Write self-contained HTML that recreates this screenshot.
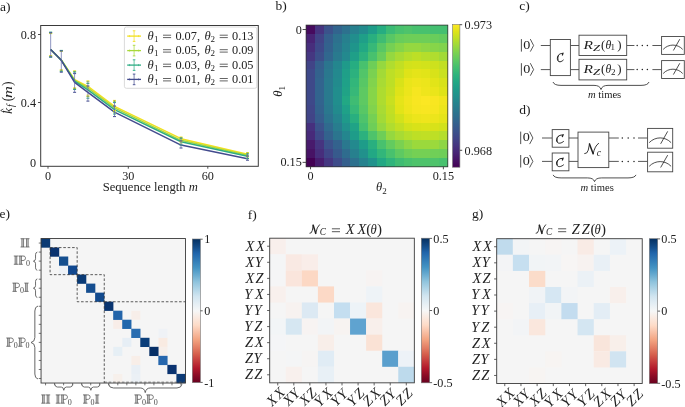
<!DOCTYPE html>
<html><head><meta charset="utf-8"><style>
html,body{margin:0;padding:0;background:#fff;}
body{width:685px;height:407px;overflow:hidden;}
svg{display:block;font-family:"Liberation Serif", serif;will-change:transform;}
</style></head><body>
<svg width="685" height="407" viewBox="0 0 685 407">
<rect width="685" height="407" fill="#fff"/>
<text x="0.00" y="10.60" font-size="13.5" text-anchor="start" fill="#1a1a1a" >a)</text>
<line x1="38.00" y1="34.50" x2="40.70" y2="34.50" stroke="#3a3a3a" stroke-width="0.9" />
<text x="36.00" y="38.70" font-size="12.2" text-anchor="end" fill="#222" >0.8</text>
<line x1="38.00" y1="102.50" x2="40.70" y2="102.50" stroke="#3a3a3a" stroke-width="0.9" />
<text x="36.00" y="106.70" font-size="12.2" text-anchor="end" fill="#222" >0.4</text>
<text x="36.00" y="166.80" font-size="12.2" text-anchor="end" fill="#222" >0</text>
<line x1="48.00" y1="166.30" x2="48.00" y2="168.70" stroke="#3a3a3a" stroke-width="0.9" />
<text x="48.00" y="180.00" font-size="12.2" text-anchor="middle" fill="#222" >0</text>
<line x1="128.30" y1="166.30" x2="128.30" y2="168.70" stroke="#3a3a3a" stroke-width="0.9" />
<text x="128.30" y="180.00" font-size="12.2" text-anchor="middle" fill="#222" >30</text>
<line x1="207.80" y1="166.30" x2="207.80" y2="168.70" stroke="#3a3a3a" stroke-width="0.9" />
<text x="207.80" y="180.00" font-size="12.2" text-anchor="middle" fill="#222" >60</text>
<text x="150.20" y="191.40" font-size="12.6" text-anchor="middle" fill="#222" >Sequence length <tspan font-style="italic">m</tspan></text>
<g transform="translate(11.9,114.0) rotate(-90)">
<text transform="translate(0.00,0.00) scale(1.056,1)" font-size="13.0" font-style="italic" fill="#222">k</text>
<text transform="translate(6.89,1.90) scale(1.000,1)" font-size="9.5" font-style="italic" fill="#222">f</text>
<text transform="translate(12.80,0.30) scale(1.000,1)" font-size="13.6" fill="#222">(</text>
<text transform="translate(16.11,0.00) scale(1.266,1)" font-size="13.0" font-style="italic" fill="#222">m</text>
<text transform="translate(27.96,0.30) scale(1.000,1)" font-size="13.6" fill="#222">)</text>
<path d="M 2.0 -8.6 L 3.5 -11.2 L 5.0 -8.6" stroke="#222" stroke-width="0.7" fill="none" />
</g>
<polyline points="50.66,49.50 61.30,60.00 74.60,79.70 87.90,86.40 114.50,106.30 181.00,138.70 247.50,154.30" fill="none" stroke="#f2e01e" stroke-width="1.5" stroke-linejoin="round"/>
<polyline points="50.66,49.50 61.30,60.10 74.60,80.50 87.90,88.00 114.50,107.80 181.00,140.30 247.50,155.30" fill="none" stroke="#a8d83a" stroke-width="1.5" stroke-linejoin="round"/>
<polyline points="50.66,49.50 61.30,60.20 74.60,81.20 87.90,89.80 114.50,109.60 181.00,141.80 247.50,156.30" fill="none" stroke="#2ead84" stroke-width="1.5" stroke-linejoin="round"/>
<polyline points="50.66,49.50 61.30,60.30 74.60,82.40 87.90,92.30 114.50,112.20 181.00,145.10 247.50,158.70" fill="none" stroke="#434b8e" stroke-width="1.5" stroke-linejoin="round"/>
<line x1="49.16" y1="33.60" x2="52.16" y2="33.60" stroke="#f2e01e" stroke-width="1.0" />
<line x1="49.16" y1="55.60" x2="52.16" y2="55.60" stroke="#f2e01e" stroke-width="1.0" />
<line x1="59.80" y1="51.30" x2="62.80" y2="51.30" stroke="#f2e01e" stroke-width="1.0" />
<line x1="59.80" y1="69.80" x2="62.80" y2="69.80" stroke="#f2e01e" stroke-width="1.0" />
<line x1="73.10" y1="70.90" x2="76.10" y2="70.90" stroke="#f2e01e" stroke-width="1.0" />
<line x1="73.10" y1="87.90" x2="76.10" y2="87.90" stroke="#f2e01e" stroke-width="1.0" />
<line x1="86.40" y1="80.90" x2="89.40" y2="80.90" stroke="#f2e01e" stroke-width="1.0" />
<line x1="86.40" y1="95.20" x2="89.40" y2="95.20" stroke="#f2e01e" stroke-width="1.0" />
<line x1="113.00" y1="100.40" x2="116.00" y2="100.40" stroke="#f2e01e" stroke-width="1.0" />
<line x1="113.00" y1="110.50" x2="116.00" y2="110.50" stroke="#f2e01e" stroke-width="1.0" />
<line x1="179.50" y1="137.00" x2="182.50" y2="137.00" stroke="#f2e01e" stroke-width="1.0" />
<line x1="179.50" y1="141.50" x2="182.50" y2="141.50" stroke="#f2e01e" stroke-width="1.0" />
<line x1="246.00" y1="152.60" x2="249.00" y2="152.60" stroke="#f2e01e" stroke-width="1.0" />
<line x1="246.00" y1="156.00" x2="249.00" y2="156.00" stroke="#f2e01e" stroke-width="1.0" />
<line x1="49.16" y1="33.10" x2="52.16" y2="33.10" stroke="#a8d83a" stroke-width="1.0" />
<line x1="49.16" y1="56.10" x2="52.16" y2="56.10" stroke="#a8d83a" stroke-width="1.0" />
<line x1="59.80" y1="51.00" x2="62.80" y2="51.00" stroke="#a8d83a" stroke-width="1.0" />
<line x1="59.80" y1="70.40" x2="62.80" y2="70.40" stroke="#a8d83a" stroke-width="1.0" />
<line x1="73.10" y1="71.40" x2="76.10" y2="71.40" stroke="#a8d83a" stroke-width="1.0" />
<line x1="73.10" y1="88.50" x2="76.10" y2="88.50" stroke="#a8d83a" stroke-width="1.0" />
<line x1="86.40" y1="81.80" x2="89.40" y2="81.80" stroke="#a8d83a" stroke-width="1.0" />
<line x1="86.40" y1="96.50" x2="89.40" y2="96.50" stroke="#a8d83a" stroke-width="1.0" />
<line x1="113.00" y1="101.30" x2="116.00" y2="101.30" stroke="#a8d83a" stroke-width="1.0" />
<line x1="113.00" y1="112.00" x2="116.00" y2="112.00" stroke="#a8d83a" stroke-width="1.0" />
<line x1="179.50" y1="137.50" x2="182.50" y2="137.50" stroke="#a8d83a" stroke-width="1.0" />
<line x1="179.50" y1="143.00" x2="182.50" y2="143.00" stroke="#a8d83a" stroke-width="1.0" />
<line x1="246.00" y1="153.20" x2="249.00" y2="153.20" stroke="#a8d83a" stroke-width="1.0" />
<line x1="246.00" y1="157.00" x2="249.00" y2="157.00" stroke="#a8d83a" stroke-width="1.0" />
<line x1="49.16" y1="32.10" x2="52.16" y2="32.10" stroke="#2ead84" stroke-width="1.0" />
<line x1="49.16" y1="57.20" x2="52.16" y2="57.20" stroke="#2ead84" stroke-width="1.0" />
<line x1="59.80" y1="50.40" x2="62.80" y2="50.40" stroke="#2ead84" stroke-width="1.0" />
<line x1="59.80" y1="71.40" x2="62.80" y2="71.40" stroke="#2ead84" stroke-width="1.0" />
<line x1="73.10" y1="72.10" x2="76.10" y2="72.10" stroke="#2ead84" stroke-width="1.0" />
<line x1="73.10" y1="89.50" x2="76.10" y2="89.50" stroke="#2ead84" stroke-width="1.0" />
<line x1="86.40" y1="83.40" x2="89.40" y2="83.40" stroke="#2ead84" stroke-width="1.0" />
<line x1="86.40" y1="98.20" x2="89.40" y2="98.20" stroke="#2ead84" stroke-width="1.0" />
<line x1="113.00" y1="102.60" x2="116.00" y2="102.60" stroke="#2ead84" stroke-width="1.0" />
<line x1="113.00" y1="114.00" x2="116.00" y2="114.00" stroke="#2ead84" stroke-width="1.0" />
<line x1="179.50" y1="138.30" x2="182.50" y2="138.30" stroke="#2ead84" stroke-width="1.0" />
<line x1="179.50" y1="145.00" x2="182.50" y2="145.00" stroke="#2ead84" stroke-width="1.0" />
<line x1="246.00" y1="154.00" x2="249.00" y2="154.00" stroke="#2ead84" stroke-width="1.0" />
<line x1="246.00" y1="158.50" x2="249.00" y2="158.50" stroke="#2ead84" stroke-width="1.0" />
<line x1="49.16" y1="32.70" x2="52.16" y2="32.70" stroke="#434b8e" stroke-width="1.0" />
<line x1="49.16" y1="56.90" x2="52.16" y2="56.90" stroke="#434b8e" stroke-width="1.0" />
<line x1="59.80" y1="50.90" x2="62.80" y2="50.90" stroke="#434b8e" stroke-width="1.0" />
<line x1="59.80" y1="72.20" x2="62.80" y2="72.20" stroke="#434b8e" stroke-width="1.0" />
<line x1="73.10" y1="73.60" x2="76.10" y2="73.60" stroke="#434b8e" stroke-width="1.0" />
<line x1="73.10" y1="92.30" x2="76.10" y2="92.30" stroke="#434b8e" stroke-width="1.0" />
<line x1="86.40" y1="86.00" x2="89.40" y2="86.00" stroke="#434b8e" stroke-width="1.0" />
<line x1="86.40" y1="101.10" x2="89.40" y2="101.10" stroke="#434b8e" stroke-width="1.0" />
<line x1="113.00" y1="106.00" x2="116.00" y2="106.00" stroke="#434b8e" stroke-width="1.0" />
<line x1="113.00" y1="116.60" x2="116.00" y2="116.60" stroke="#434b8e" stroke-width="1.0" />
<line x1="179.50" y1="141.00" x2="182.50" y2="141.00" stroke="#434b8e" stroke-width="1.0" />
<line x1="179.50" y1="148.00" x2="182.50" y2="148.00" stroke="#434b8e" stroke-width="1.0" />
<line x1="246.00" y1="156.00" x2="249.00" y2="156.00" stroke="#434b8e" stroke-width="1.0" />
<line x1="246.00" y1="160.20" x2="249.00" y2="160.20" stroke="#434b8e" stroke-width="1.0" />
<line x1="50.66" y1="32.10" x2="50.66" y2="57.20" stroke="#5f68a8" stroke-width="0.7" />
<line x1="61.30" y1="50.40" x2="61.30" y2="72.20" stroke="#5f68a8" stroke-width="0.7" />
<line x1="74.60" y1="70.90" x2="74.60" y2="92.30" stroke="#5f68a8" stroke-width="0.7" />
<line x1="87.90" y1="80.90" x2="87.90" y2="101.10" stroke="#5f68a8" stroke-width="0.7" />
<line x1="114.50" y1="100.40" x2="114.50" y2="116.60" stroke="#5f68a8" stroke-width="0.7" />
<line x1="181.00" y1="137.00" x2="181.00" y2="148.00" stroke="#5f68a8" stroke-width="0.7" />
<line x1="247.50" y1="152.60" x2="247.50" y2="160.20" stroke="#5f68a8" stroke-width="0.7" />
<rect x="40.70" y="25.50" width="217.60" height="140.80" fill="none" stroke="#3a3a3a" stroke-width="1.0" />
<rect x="124.40" y="27.00" width="132.40" height="61.30" fill="#ffffff" stroke="#d0d0d0" stroke-width="0.8" rx="2"/>
<line x1="127.20" y1="36.10" x2="141.00" y2="36.10" stroke="#f2e01e" stroke-width="1.3" />
<line x1="134.10" y1="30.80" x2="134.10" y2="41.40" stroke="#f2e01e" stroke-width="0.7" />
<line x1="132.80" y1="30.80" x2="135.40" y2="30.80" stroke="#f2e01e" stroke-width="0.9" />
<line x1="132.80" y1="41.40" x2="135.40" y2="41.40" stroke="#f2e01e" stroke-width="0.9" />
<line x1="129.60" y1="35.10" x2="129.60" y2="37.10" stroke="#f2e01e" stroke-width="0.7" />
<line x1="138.60" y1="35.10" x2="138.60" y2="37.10" stroke="#f2e01e" stroke-width="0.7" />
<text x="147.5" y="39.80" font-size="12.6" font-style="italic" fill="#222">θ</text>
<text x="153.90" y="41.60" font-size="9.0" text-anchor="start" fill="#222" >1</text>
<line x1="163.00" y1="35.20" x2="171.10" y2="35.20" stroke="#222" stroke-width="0.7" />
<line x1="163.00" y1="37.60" x2="171.10" y2="37.60" stroke="#222" stroke-width="0.7" />
<text x="175.40" y="39.80" font-size="12.3" text-anchor="start" fill="#222" >0.07,</text>
<text x="204.4" y="39.80" font-size="12.6" font-style="italic" fill="#222">θ</text>
<text x="210.60" y="41.60" font-size="9.0" text-anchor="start" fill="#222" >2</text>
<line x1="219.70" y1="35.20" x2="227.80" y2="35.20" stroke="#222" stroke-width="0.7" />
<line x1="219.70" y1="37.60" x2="227.80" y2="37.60" stroke="#222" stroke-width="0.7" />
<text x="232.00" y="39.80" font-size="12.3" text-anchor="start" fill="#222" >0.13</text>
<line x1="127.20" y1="50.60" x2="141.00" y2="50.60" stroke="#a8d83a" stroke-width="1.3" />
<line x1="134.10" y1="45.30" x2="134.10" y2="55.90" stroke="#a8d83a" stroke-width="0.7" />
<line x1="132.80" y1="45.30" x2="135.40" y2="45.30" stroke="#a8d83a" stroke-width="0.9" />
<line x1="132.80" y1="55.90" x2="135.40" y2="55.90" stroke="#a8d83a" stroke-width="0.9" />
<line x1="129.60" y1="49.60" x2="129.60" y2="51.60" stroke="#a8d83a" stroke-width="0.7" />
<line x1="138.60" y1="49.60" x2="138.60" y2="51.60" stroke="#a8d83a" stroke-width="0.7" />
<text x="147.5" y="54.30" font-size="12.6" font-style="italic" fill="#222">θ</text>
<text x="153.90" y="56.10" font-size="9.0" text-anchor="start" fill="#222" >1</text>
<line x1="163.00" y1="49.70" x2="171.10" y2="49.70" stroke="#222" stroke-width="0.7" />
<line x1="163.00" y1="52.10" x2="171.10" y2="52.10" stroke="#222" stroke-width="0.7" />
<text x="175.40" y="54.30" font-size="12.3" text-anchor="start" fill="#222" >0.05,</text>
<text x="204.4" y="54.30" font-size="12.6" font-style="italic" fill="#222">θ</text>
<text x="210.60" y="56.10" font-size="9.0" text-anchor="start" fill="#222" >2</text>
<line x1="219.70" y1="49.70" x2="227.80" y2="49.70" stroke="#222" stroke-width="0.7" />
<line x1="219.70" y1="52.10" x2="227.80" y2="52.10" stroke="#222" stroke-width="0.7" />
<text x="232.00" y="54.30" font-size="12.3" text-anchor="start" fill="#222" >0.09</text>
<line x1="127.20" y1="65.10" x2="141.00" y2="65.10" stroke="#2ead84" stroke-width="1.3" />
<line x1="134.10" y1="59.80" x2="134.10" y2="70.40" stroke="#2ead84" stroke-width="0.7" />
<line x1="132.80" y1="59.80" x2="135.40" y2="59.80" stroke="#2ead84" stroke-width="0.9" />
<line x1="132.80" y1="70.40" x2="135.40" y2="70.40" stroke="#2ead84" stroke-width="0.9" />
<line x1="129.60" y1="64.10" x2="129.60" y2="66.10" stroke="#2ead84" stroke-width="0.7" />
<line x1="138.60" y1="64.10" x2="138.60" y2="66.10" stroke="#2ead84" stroke-width="0.7" />
<text x="147.5" y="68.80" font-size="12.6" font-style="italic" fill="#222">θ</text>
<text x="153.90" y="70.60" font-size="9.0" text-anchor="start" fill="#222" >1</text>
<line x1="163.00" y1="64.20" x2="171.10" y2="64.20" stroke="#222" stroke-width="0.7" />
<line x1="163.00" y1="66.60" x2="171.10" y2="66.60" stroke="#222" stroke-width="0.7" />
<text x="175.40" y="68.80" font-size="12.3" text-anchor="start" fill="#222" >0.03,</text>
<text x="204.4" y="68.80" font-size="12.6" font-style="italic" fill="#222">θ</text>
<text x="210.60" y="70.60" font-size="9.0" text-anchor="start" fill="#222" >2</text>
<line x1="219.70" y1="64.20" x2="227.80" y2="64.20" stroke="#222" stroke-width="0.7" />
<line x1="219.70" y1="66.60" x2="227.80" y2="66.60" stroke="#222" stroke-width="0.7" />
<text x="232.00" y="68.80" font-size="12.3" text-anchor="start" fill="#222" >0.05</text>
<line x1="127.20" y1="79.40" x2="141.00" y2="79.40" stroke="#434b8e" stroke-width="1.3" />
<line x1="134.10" y1="74.10" x2="134.10" y2="84.70" stroke="#434b8e" stroke-width="0.7" />
<line x1="132.80" y1="74.10" x2="135.40" y2="74.10" stroke="#434b8e" stroke-width="0.9" />
<line x1="132.80" y1="84.70" x2="135.40" y2="84.70" stroke="#434b8e" stroke-width="0.9" />
<line x1="129.60" y1="78.40" x2="129.60" y2="80.40" stroke="#434b8e" stroke-width="0.7" />
<line x1="138.60" y1="78.40" x2="138.60" y2="80.40" stroke="#434b8e" stroke-width="0.7" />
<text x="147.5" y="83.10" font-size="12.6" font-style="italic" fill="#222">θ</text>
<text x="153.90" y="84.90" font-size="9.0" text-anchor="start" fill="#222" >1</text>
<line x1="163.00" y1="78.50" x2="171.10" y2="78.50" stroke="#222" stroke-width="0.7" />
<line x1="163.00" y1="80.90" x2="171.10" y2="80.90" stroke="#222" stroke-width="0.7" />
<text x="175.40" y="83.10" font-size="12.3" text-anchor="start" fill="#222" >0.01,</text>
<text x="204.4" y="83.10" font-size="12.6" font-style="italic" fill="#222">θ</text>
<text x="210.60" y="84.90" font-size="9.0" text-anchor="start" fill="#222" >2</text>
<line x1="219.70" y1="78.50" x2="227.80" y2="78.50" stroke="#222" stroke-width="0.7" />
<line x1="219.70" y1="80.90" x2="227.80" y2="80.90" stroke="#222" stroke-width="0.7" />
<text x="232.00" y="83.10" font-size="12.3" text-anchor="start" fill="#222" >0.01</text>
<text x="275.40" y="10.20" font-size="13.5" text-anchor="start" fill="#1a1a1a" >b)</text>
<rect x="306.10" y="25.10" width="9.46" height="9.46" fill="#460b5e" stroke="none" stroke-width="1" shape-rendering="crispEdges"/>
<rect x="314.96" y="25.10" width="9.46" height="9.46" fill="#463480" stroke="none" stroke-width="1" shape-rendering="crispEdges"/>
<rect x="323.81" y="25.10" width="9.46" height="9.46" fill="#3b528b" stroke="none" stroke-width="1" shape-rendering="crispEdges"/>
<rect x="332.67" y="25.10" width="9.46" height="9.46" fill="#32648e" stroke="none" stroke-width="1" shape-rendering="crispEdges"/>
<rect x="341.53" y="25.10" width="9.46" height="9.46" fill="#2d718e" stroke="none" stroke-width="1" shape-rendering="crispEdges"/>
<rect x="350.38" y="25.10" width="9.46" height="9.46" fill="#27808e" stroke="none" stroke-width="1" shape-rendering="crispEdges"/>
<rect x="359.24" y="25.10" width="9.46" height="9.46" fill="#228b8d" stroke="none" stroke-width="1" shape-rendering="crispEdges"/>
<rect x="368.09" y="25.10" width="9.46" height="9.46" fill="#1e9c89" stroke="none" stroke-width="1" shape-rendering="crispEdges"/>
<rect x="376.95" y="25.10" width="9.46" height="9.46" fill="#26ad81" stroke="none" stroke-width="1" shape-rendering="crispEdges"/>
<rect x="385.81" y="25.10" width="9.46" height="9.46" fill="#3bbb75" stroke="none" stroke-width="1" shape-rendering="crispEdges"/>
<rect x="394.66" y="25.10" width="9.46" height="9.46" fill="#48c16e" stroke="none" stroke-width="1" shape-rendering="crispEdges"/>
<rect x="403.52" y="25.10" width="9.46" height="9.46" fill="#4ec36b" stroke="none" stroke-width="1" shape-rendering="crispEdges"/>
<rect x="412.38" y="25.10" width="9.46" height="9.46" fill="#48c16e" stroke="none" stroke-width="1" shape-rendering="crispEdges"/>
<rect x="421.23" y="25.10" width="9.46" height="9.46" fill="#48c16e" stroke="none" stroke-width="1" shape-rendering="crispEdges"/>
<rect x="430.09" y="25.10" width="9.46" height="9.46" fill="#44bf70" stroke="none" stroke-width="1" shape-rendering="crispEdges"/>
<rect x="438.94" y="25.10" width="9.46" height="9.46" fill="#44bf70" stroke="none" stroke-width="1" shape-rendering="crispEdges"/>
<rect x="306.10" y="33.96" width="9.46" height="9.46" fill="#482475" stroke="none" stroke-width="1" shape-rendering="crispEdges"/>
<rect x="314.96" y="33.96" width="9.46" height="9.46" fill="#414487" stroke="none" stroke-width="1" shape-rendering="crispEdges"/>
<rect x="323.81" y="33.96" width="9.46" height="9.46" fill="#355f8d" stroke="none" stroke-width="1" shape-rendering="crispEdges"/>
<rect x="332.67" y="33.96" width="9.46" height="9.46" fill="#2d718e" stroke="none" stroke-width="1" shape-rendering="crispEdges"/>
<rect x="341.53" y="33.96" width="9.46" height="9.46" fill="#27808e" stroke="none" stroke-width="1" shape-rendering="crispEdges"/>
<rect x="350.38" y="33.96" width="9.46" height="9.46" fill="#218e8d" stroke="none" stroke-width="1" shape-rendering="crispEdges"/>
<rect x="359.24" y="33.96" width="9.46" height="9.46" fill="#1f9f88" stroke="none" stroke-width="1" shape-rendering="crispEdges"/>
<rect x="368.09" y="33.96" width="9.46" height="9.46" fill="#29af7f" stroke="none" stroke-width="1" shape-rendering="crispEdges"/>
<rect x="376.95" y="33.96" width="9.46" height="9.46" fill="#3fbc73" stroke="none" stroke-width="1" shape-rendering="crispEdges"/>
<rect x="385.81" y="33.96" width="9.46" height="9.46" fill="#58c765" stroke="none" stroke-width="1" shape-rendering="crispEdges"/>
<rect x="394.66" y="33.96" width="9.46" height="9.46" fill="#69cd5b" stroke="none" stroke-width="1" shape-rendering="crispEdges"/>
<rect x="403.52" y="33.96" width="9.46" height="9.46" fill="#6ece58" stroke="none" stroke-width="1" shape-rendering="crispEdges"/>
<rect x="412.38" y="33.96" width="9.46" height="9.46" fill="#6ece58" stroke="none" stroke-width="1" shape-rendering="crispEdges"/>
<rect x="421.23" y="33.96" width="9.46" height="9.46" fill="#6ece58" stroke="none" stroke-width="1" shape-rendering="crispEdges"/>
<rect x="430.09" y="33.96" width="9.46" height="9.46" fill="#69cd5b" stroke="none" stroke-width="1" shape-rendering="crispEdges"/>
<rect x="438.94" y="33.96" width="9.46" height="9.46" fill="#63cb5f" stroke="none" stroke-width="1" shape-rendering="crispEdges"/>
<rect x="306.10" y="42.81" width="9.46" height="9.46" fill="#472e7c" stroke="none" stroke-width="1" shape-rendering="crispEdges"/>
<rect x="314.96" y="42.81" width="9.46" height="9.46" fill="#3e4989" stroke="none" stroke-width="1" shape-rendering="crispEdges"/>
<rect x="323.81" y="42.81" width="9.46" height="9.46" fill="#33628d" stroke="none" stroke-width="1" shape-rendering="crispEdges"/>
<rect x="332.67" y="42.81" width="9.46" height="9.46" fill="#2b758e" stroke="none" stroke-width="1" shape-rendering="crispEdges"/>
<rect x="341.53" y="42.81" width="9.46" height="9.46" fill="#25848e" stroke="none" stroke-width="1" shape-rendering="crispEdges"/>
<rect x="350.38" y="42.81" width="9.46" height="9.46" fill="#1f958b" stroke="none" stroke-width="1" shape-rendering="crispEdges"/>
<rect x="359.24" y="42.81" width="9.46" height="9.46" fill="#22a884" stroke="none" stroke-width="1" shape-rendering="crispEdges"/>
<rect x="368.09" y="42.81" width="9.46" height="9.46" fill="#37b878" stroke="none" stroke-width="1" shape-rendering="crispEdges"/>
<rect x="376.95" y="42.81" width="9.46" height="9.46" fill="#58c765" stroke="none" stroke-width="1" shape-rendering="crispEdges"/>
<rect x="385.81" y="42.81" width="9.46" height="9.46" fill="#75d054" stroke="none" stroke-width="1" shape-rendering="crispEdges"/>
<rect x="394.66" y="42.81" width="9.46" height="9.46" fill="#86d549" stroke="none" stroke-width="1" shape-rendering="crispEdges"/>
<rect x="403.52" y="42.81" width="9.46" height="9.46" fill="#95d840" stroke="none" stroke-width="1" shape-rendering="crispEdges"/>
<rect x="412.38" y="42.81" width="9.46" height="9.46" fill="#95d840" stroke="none" stroke-width="1" shape-rendering="crispEdges"/>
<rect x="421.23" y="42.81" width="9.46" height="9.46" fill="#8ed645" stroke="none" stroke-width="1" shape-rendering="crispEdges"/>
<rect x="430.09" y="42.81" width="9.46" height="9.46" fill="#86d549" stroke="none" stroke-width="1" shape-rendering="crispEdges"/>
<rect x="438.94" y="42.81" width="9.46" height="9.46" fill="#81d34d" stroke="none" stroke-width="1" shape-rendering="crispEdges"/>
<rect x="306.10" y="51.67" width="9.46" height="9.46" fill="#453781" stroke="none" stroke-width="1" shape-rendering="crispEdges"/>
<rect x="314.96" y="51.67" width="9.46" height="9.46" fill="#3c4f8a" stroke="none" stroke-width="1" shape-rendering="crispEdges"/>
<rect x="323.81" y="51.67" width="9.46" height="9.46" fill="#31678e" stroke="none" stroke-width="1" shape-rendering="crispEdges"/>
<rect x="332.67" y="51.67" width="9.46" height="9.46" fill="#297a8e" stroke="none" stroke-width="1" shape-rendering="crispEdges"/>
<rect x="341.53" y="51.67" width="9.46" height="9.46" fill="#23898e" stroke="none" stroke-width="1" shape-rendering="crispEdges"/>
<rect x="350.38" y="51.67" width="9.46" height="9.46" fill="#1f9f88" stroke="none" stroke-width="1" shape-rendering="crispEdges"/>
<rect x="359.24" y="51.67" width="9.46" height="9.46" fill="#2cb17e" stroke="none" stroke-width="1" shape-rendering="crispEdges"/>
<rect x="368.09" y="51.67" width="9.46" height="9.46" fill="#48c16e" stroke="none" stroke-width="1" shape-rendering="crispEdges"/>
<rect x="376.95" y="51.67" width="9.46" height="9.46" fill="#69cd5b" stroke="none" stroke-width="1" shape-rendering="crispEdges"/>
<rect x="385.81" y="51.67" width="9.46" height="9.46" fill="#95d840" stroke="none" stroke-width="1" shape-rendering="crispEdges"/>
<rect x="394.66" y="51.67" width="9.46" height="9.46" fill="#a8db34" stroke="none" stroke-width="1" shape-rendering="crispEdges"/>
<rect x="403.52" y="51.67" width="9.46" height="9.46" fill="#b5de2b" stroke="none" stroke-width="1" shape-rendering="crispEdges"/>
<rect x="412.38" y="51.67" width="9.46" height="9.46" fill="#bddf26" stroke="none" stroke-width="1" shape-rendering="crispEdges"/>
<rect x="421.23" y="51.67" width="9.46" height="9.46" fill="#b5de2b" stroke="none" stroke-width="1" shape-rendering="crispEdges"/>
<rect x="430.09" y="51.67" width="9.46" height="9.46" fill="#b0dd2f" stroke="none" stroke-width="1" shape-rendering="crispEdges"/>
<rect x="438.94" y="51.67" width="9.46" height="9.46" fill="#a2da37" stroke="none" stroke-width="1" shape-rendering="crispEdges"/>
<rect x="306.10" y="60.53" width="9.46" height="9.46" fill="#414487" stroke="none" stroke-width="1" shape-rendering="crispEdges"/>
<rect x="314.96" y="60.53" width="9.46" height="9.46" fill="#355f8d" stroke="none" stroke-width="1" shape-rendering="crispEdges"/>
<rect x="323.81" y="60.53" width="9.46" height="9.46" fill="#2b758e" stroke="none" stroke-width="1" shape-rendering="crispEdges"/>
<rect x="332.67" y="60.53" width="9.46" height="9.46" fill="#24868e" stroke="none" stroke-width="1" shape-rendering="crispEdges"/>
<rect x="341.53" y="60.53" width="9.46" height="9.46" fill="#1f9a8a" stroke="none" stroke-width="1" shape-rendering="crispEdges"/>
<rect x="350.38" y="60.53" width="9.46" height="9.46" fill="#26ad81" stroke="none" stroke-width="1" shape-rendering="crispEdges"/>
<rect x="359.24" y="60.53" width="9.46" height="9.46" fill="#48c16e" stroke="none" stroke-width="1" shape-rendering="crispEdges"/>
<rect x="368.09" y="60.53" width="9.46" height="9.46" fill="#6ece58" stroke="none" stroke-width="1" shape-rendering="crispEdges"/>
<rect x="376.95" y="60.53" width="9.46" height="9.46" fill="#95d840" stroke="none" stroke-width="1" shape-rendering="crispEdges"/>
<rect x="385.81" y="60.53" width="9.46" height="9.46" fill="#b0dd2f" stroke="none" stroke-width="1" shape-rendering="crispEdges"/>
<rect x="394.66" y="60.53" width="9.46" height="9.46" fill="#c2df23" stroke="none" stroke-width="1" shape-rendering="crispEdges"/>
<rect x="403.52" y="60.53" width="9.46" height="9.46" fill="#d2e21b" stroke="none" stroke-width="1" shape-rendering="crispEdges"/>
<rect x="412.38" y="60.53" width="9.46" height="9.46" fill="#d5e21a" stroke="none" stroke-width="1" shape-rendering="crispEdges"/>
<rect x="421.23" y="60.53" width="9.46" height="9.46" fill="#d2e21b" stroke="none" stroke-width="1" shape-rendering="crispEdges"/>
<rect x="430.09" y="60.53" width="9.46" height="9.46" fill="#cde11d" stroke="none" stroke-width="1" shape-rendering="crispEdges"/>
<rect x="438.94" y="60.53" width="9.46" height="9.46" fill="#c2df23" stroke="none" stroke-width="1" shape-rendering="crispEdges"/>
<rect x="306.10" y="69.38" width="9.46" height="9.46" fill="#3e4989" stroke="none" stroke-width="1" shape-rendering="crispEdges"/>
<rect x="314.96" y="69.38" width="9.46" height="9.46" fill="#33628d" stroke="none" stroke-width="1" shape-rendering="crispEdges"/>
<rect x="323.81" y="69.38" width="9.46" height="9.46" fill="#2a788e" stroke="none" stroke-width="1" shape-rendering="crispEdges"/>
<rect x="332.67" y="69.38" width="9.46" height="9.46" fill="#23898e" stroke="none" stroke-width="1" shape-rendering="crispEdges"/>
<rect x="341.53" y="69.38" width="9.46" height="9.46" fill="#1f9f88" stroke="none" stroke-width="1" shape-rendering="crispEdges"/>
<rect x="350.38" y="69.38" width="9.46" height="9.46" fill="#2cb17e" stroke="none" stroke-width="1" shape-rendering="crispEdges"/>
<rect x="359.24" y="69.38" width="9.46" height="9.46" fill="#52c569" stroke="none" stroke-width="1" shape-rendering="crispEdges"/>
<rect x="368.09" y="69.38" width="9.46" height="9.46" fill="#7ad151" stroke="none" stroke-width="1" shape-rendering="crispEdges"/>
<rect x="376.95" y="69.38" width="9.46" height="9.46" fill="#a2da37" stroke="none" stroke-width="1" shape-rendering="crispEdges"/>
<rect x="385.81" y="69.38" width="9.46" height="9.46" fill="#bddf26" stroke="none" stroke-width="1" shape-rendering="crispEdges"/>
<rect x="394.66" y="69.38" width="9.46" height="9.46" fill="#cae11f" stroke="none" stroke-width="1" shape-rendering="crispEdges"/>
<rect x="403.52" y="69.38" width="9.46" height="9.46" fill="#dfe318" stroke="none" stroke-width="1" shape-rendering="crispEdges"/>
<rect x="412.38" y="69.38" width="9.46" height="9.46" fill="#e5e419" stroke="none" stroke-width="1" shape-rendering="crispEdges"/>
<rect x="421.23" y="69.38" width="9.46" height="9.46" fill="#e2e418" stroke="none" stroke-width="1" shape-rendering="crispEdges"/>
<rect x="430.09" y="69.38" width="9.46" height="9.46" fill="#d8e219" stroke="none" stroke-width="1" shape-rendering="crispEdges"/>
<rect x="438.94" y="69.38" width="9.46" height="9.46" fill="#cae11f" stroke="none" stroke-width="1" shape-rendering="crispEdges"/>
<rect x="306.10" y="78.24" width="9.46" height="9.46" fill="#3e4989" stroke="none" stroke-width="1" shape-rendering="crispEdges"/>
<rect x="314.96" y="78.24" width="9.46" height="9.46" fill="#32648e" stroke="none" stroke-width="1" shape-rendering="crispEdges"/>
<rect x="323.81" y="78.24" width="9.46" height="9.46" fill="#297a8e" stroke="none" stroke-width="1" shape-rendering="crispEdges"/>
<rect x="332.67" y="78.24" width="9.46" height="9.46" fill="#228b8d" stroke="none" stroke-width="1" shape-rendering="crispEdges"/>
<rect x="341.53" y="78.24" width="9.46" height="9.46" fill="#1fa188" stroke="none" stroke-width="1" shape-rendering="crispEdges"/>
<rect x="350.38" y="78.24" width="9.46" height="9.46" fill="#32b67a" stroke="none" stroke-width="1" shape-rendering="crispEdges"/>
<rect x="359.24" y="78.24" width="9.46" height="9.46" fill="#58c765" stroke="none" stroke-width="1" shape-rendering="crispEdges"/>
<rect x="368.09" y="78.24" width="9.46" height="9.46" fill="#81d34d" stroke="none" stroke-width="1" shape-rendering="crispEdges"/>
<rect x="376.95" y="78.24" width="9.46" height="9.46" fill="#a8db34" stroke="none" stroke-width="1" shape-rendering="crispEdges"/>
<rect x="385.81" y="78.24" width="9.46" height="9.46" fill="#bddf26" stroke="none" stroke-width="1" shape-rendering="crispEdges"/>
<rect x="394.66" y="78.24" width="9.46" height="9.46" fill="#d8e219" stroke="none" stroke-width="1" shape-rendering="crispEdges"/>
<rect x="403.52" y="78.24" width="9.46" height="9.46" fill="#eae51a" stroke="none" stroke-width="1" shape-rendering="crispEdges"/>
<rect x="412.38" y="78.24" width="9.46" height="9.46" fill="#efe51c" stroke="none" stroke-width="1" shape-rendering="crispEdges"/>
<rect x="421.23" y="78.24" width="9.46" height="9.46" fill="#ece51b" stroke="none" stroke-width="1" shape-rendering="crispEdges"/>
<rect x="430.09" y="78.24" width="9.46" height="9.46" fill="#e2e418" stroke="none" stroke-width="1" shape-rendering="crispEdges"/>
<rect x="438.94" y="78.24" width="9.46" height="9.46" fill="#d8e219" stroke="none" stroke-width="1" shape-rendering="crispEdges"/>
<rect x="306.10" y="87.09" width="9.46" height="9.46" fill="#3e4989" stroke="none" stroke-width="1" shape-rendering="crispEdges"/>
<rect x="314.96" y="87.09" width="9.46" height="9.46" fill="#32648e" stroke="none" stroke-width="1" shape-rendering="crispEdges"/>
<rect x="323.81" y="87.09" width="9.46" height="9.46" fill="#297a8e" stroke="none" stroke-width="1" shape-rendering="crispEdges"/>
<rect x="332.67" y="87.09" width="9.46" height="9.46" fill="#218e8d" stroke="none" stroke-width="1" shape-rendering="crispEdges"/>
<rect x="341.53" y="87.09" width="9.46" height="9.46" fill="#20a386" stroke="none" stroke-width="1" shape-rendering="crispEdges"/>
<rect x="350.38" y="87.09" width="9.46" height="9.46" fill="#37b878" stroke="none" stroke-width="1" shape-rendering="crispEdges"/>
<rect x="359.24" y="87.09" width="9.46" height="9.46" fill="#5ec962" stroke="none" stroke-width="1" shape-rendering="crispEdges"/>
<rect x="368.09" y="87.09" width="9.46" height="9.46" fill="#86d549" stroke="none" stroke-width="1" shape-rendering="crispEdges"/>
<rect x="376.95" y="87.09" width="9.46" height="9.46" fill="#addc30" stroke="none" stroke-width="1" shape-rendering="crispEdges"/>
<rect x="385.81" y="87.09" width="9.46" height="9.46" fill="#c2df23" stroke="none" stroke-width="1" shape-rendering="crispEdges"/>
<rect x="394.66" y="87.09" width="9.46" height="9.46" fill="#dfe318" stroke="none" stroke-width="1" shape-rendering="crispEdges"/>
<rect x="403.52" y="87.09" width="9.46" height="9.46" fill="#ece51b" stroke="none" stroke-width="1" shape-rendering="crispEdges"/>
<rect x="412.38" y="87.09" width="9.46" height="9.46" fill="#f6e620" stroke="none" stroke-width="1" shape-rendering="crispEdges"/>
<rect x="421.23" y="87.09" width="9.46" height="9.46" fill="#efe51c" stroke="none" stroke-width="1" shape-rendering="crispEdges"/>
<rect x="430.09" y="87.09" width="9.46" height="9.46" fill="#eae51a" stroke="none" stroke-width="1" shape-rendering="crispEdges"/>
<rect x="438.94" y="87.09" width="9.46" height="9.46" fill="#dfe318" stroke="none" stroke-width="1" shape-rendering="crispEdges"/>
<rect x="306.10" y="95.95" width="9.46" height="9.46" fill="#3e4989" stroke="none" stroke-width="1" shape-rendering="crispEdges"/>
<rect x="314.96" y="95.95" width="9.46" height="9.46" fill="#32648e" stroke="none" stroke-width="1" shape-rendering="crispEdges"/>
<rect x="323.81" y="95.95" width="9.46" height="9.46" fill="#297a8e" stroke="none" stroke-width="1" shape-rendering="crispEdges"/>
<rect x="332.67" y="95.95" width="9.46" height="9.46" fill="#218e8d" stroke="none" stroke-width="1" shape-rendering="crispEdges"/>
<rect x="341.53" y="95.95" width="9.46" height="9.46" fill="#22a884" stroke="none" stroke-width="1" shape-rendering="crispEdges"/>
<rect x="350.38" y="95.95" width="9.46" height="9.46" fill="#3fbc73" stroke="none" stroke-width="1" shape-rendering="crispEdges"/>
<rect x="359.24" y="95.95" width="9.46" height="9.46" fill="#5ec962" stroke="none" stroke-width="1" shape-rendering="crispEdges"/>
<rect x="368.09" y="95.95" width="9.46" height="9.46" fill="#86d549" stroke="none" stroke-width="1" shape-rendering="crispEdges"/>
<rect x="376.95" y="95.95" width="9.46" height="9.46" fill="#addc30" stroke="none" stroke-width="1" shape-rendering="crispEdges"/>
<rect x="385.81" y="95.95" width="9.46" height="9.46" fill="#c8e020" stroke="none" stroke-width="1" shape-rendering="crispEdges"/>
<rect x="394.66" y="95.95" width="9.46" height="9.46" fill="#e5e419" stroke="none" stroke-width="1" shape-rendering="crispEdges"/>
<rect x="403.52" y="95.95" width="9.46" height="9.46" fill="#f1e51d" stroke="none" stroke-width="1" shape-rendering="crispEdges"/>
<rect x="412.38" y="95.95" width="9.46" height="9.46" fill="#f8e621" stroke="none" stroke-width="1" shape-rendering="crispEdges"/>
<rect x="421.23" y="95.95" width="9.46" height="9.46" fill="#fbe723" stroke="none" stroke-width="1" shape-rendering="crispEdges"/>
<rect x="430.09" y="95.95" width="9.46" height="9.46" fill="#f8e621" stroke="none" stroke-width="1" shape-rendering="crispEdges"/>
<rect x="438.94" y="95.95" width="9.46" height="9.46" fill="#f1e51d" stroke="none" stroke-width="1" shape-rendering="crispEdges"/>
<rect x="306.10" y="104.81" width="9.46" height="9.46" fill="#404688" stroke="none" stroke-width="1" shape-rendering="crispEdges"/>
<rect x="314.96" y="104.81" width="9.46" height="9.46" fill="#33628d" stroke="none" stroke-width="1" shape-rendering="crispEdges"/>
<rect x="323.81" y="104.81" width="9.46" height="9.46" fill="#2a788e" stroke="none" stroke-width="1" shape-rendering="crispEdges"/>
<rect x="332.67" y="104.81" width="9.46" height="9.46" fill="#228b8d" stroke="none" stroke-width="1" shape-rendering="crispEdges"/>
<rect x="341.53" y="104.81" width="9.46" height="9.46" fill="#1fa188" stroke="none" stroke-width="1" shape-rendering="crispEdges"/>
<rect x="350.38" y="104.81" width="9.46" height="9.46" fill="#37b878" stroke="none" stroke-width="1" shape-rendering="crispEdges"/>
<rect x="359.24" y="104.81" width="9.46" height="9.46" fill="#58c765" stroke="none" stroke-width="1" shape-rendering="crispEdges"/>
<rect x="368.09" y="104.81" width="9.46" height="9.46" fill="#81d34d" stroke="none" stroke-width="1" shape-rendering="crispEdges"/>
<rect x="376.95" y="104.81" width="9.46" height="9.46" fill="#a8db34" stroke="none" stroke-width="1" shape-rendering="crispEdges"/>
<rect x="385.81" y="104.81" width="9.46" height="9.46" fill="#c2df23" stroke="none" stroke-width="1" shape-rendering="crispEdges"/>
<rect x="394.66" y="104.81" width="9.46" height="9.46" fill="#e2e418" stroke="none" stroke-width="1" shape-rendering="crispEdges"/>
<rect x="403.52" y="104.81" width="9.46" height="9.46" fill="#efe51c" stroke="none" stroke-width="1" shape-rendering="crispEdges"/>
<rect x="412.38" y="104.81" width="9.46" height="9.46" fill="#f6e620" stroke="none" stroke-width="1" shape-rendering="crispEdges"/>
<rect x="421.23" y="104.81" width="9.46" height="9.46" fill="#f8e621" stroke="none" stroke-width="1" shape-rendering="crispEdges"/>
<rect x="430.09" y="104.81" width="9.46" height="9.46" fill="#f6e620" stroke="none" stroke-width="1" shape-rendering="crispEdges"/>
<rect x="438.94" y="104.81" width="9.46" height="9.46" fill="#ece51b" stroke="none" stroke-width="1" shape-rendering="crispEdges"/>
<rect x="306.10" y="113.66" width="9.46" height="9.46" fill="#414487" stroke="none" stroke-width="1" shape-rendering="crispEdges"/>
<rect x="314.96" y="113.66" width="9.46" height="9.46" fill="#365d8d" stroke="none" stroke-width="1" shape-rendering="crispEdges"/>
<rect x="323.81" y="113.66" width="9.46" height="9.46" fill="#2c738e" stroke="none" stroke-width="1" shape-rendering="crispEdges"/>
<rect x="332.67" y="113.66" width="9.46" height="9.46" fill="#25848e" stroke="none" stroke-width="1" shape-rendering="crispEdges"/>
<rect x="341.53" y="113.66" width="9.46" height="9.46" fill="#1f9a8a" stroke="none" stroke-width="1" shape-rendering="crispEdges"/>
<rect x="350.38" y="113.66" width="9.46" height="9.46" fill="#29af7f" stroke="none" stroke-width="1" shape-rendering="crispEdges"/>
<rect x="359.24" y="113.66" width="9.46" height="9.46" fill="#4ec36b" stroke="none" stroke-width="1" shape-rendering="crispEdges"/>
<rect x="368.09" y="113.66" width="9.46" height="9.46" fill="#75d054" stroke="none" stroke-width="1" shape-rendering="crispEdges"/>
<rect x="376.95" y="113.66" width="9.46" height="9.46" fill="#a2da37" stroke="none" stroke-width="1" shape-rendering="crispEdges"/>
<rect x="385.81" y="113.66" width="9.46" height="9.46" fill="#bddf26" stroke="none" stroke-width="1" shape-rendering="crispEdges"/>
<rect x="394.66" y="113.66" width="9.46" height="9.46" fill="#d2e21b" stroke="none" stroke-width="1" shape-rendering="crispEdges"/>
<rect x="403.52" y="113.66" width="9.46" height="9.46" fill="#e5e419" stroke="none" stroke-width="1" shape-rendering="crispEdges"/>
<rect x="412.38" y="113.66" width="9.46" height="9.46" fill="#ece51b" stroke="none" stroke-width="1" shape-rendering="crispEdges"/>
<rect x="421.23" y="113.66" width="9.46" height="9.46" fill="#efe51c" stroke="none" stroke-width="1" shape-rendering="crispEdges"/>
<rect x="430.09" y="113.66" width="9.46" height="9.46" fill="#ece51b" stroke="none" stroke-width="1" shape-rendering="crispEdges"/>
<rect x="438.94" y="113.66" width="9.46" height="9.46" fill="#e5e419" stroke="none" stroke-width="1" shape-rendering="crispEdges"/>
<rect x="306.10" y="122.52" width="9.46" height="9.46" fill="#46307e" stroke="none" stroke-width="1" shape-rendering="crispEdges"/>
<rect x="314.96" y="122.52" width="9.46" height="9.46" fill="#3b528b" stroke="none" stroke-width="1" shape-rendering="crispEdges"/>
<rect x="323.81" y="122.52" width="9.46" height="9.46" fill="#306a8e" stroke="none" stroke-width="1" shape-rendering="crispEdges"/>
<rect x="332.67" y="122.52" width="9.46" height="9.46" fill="#287d8e" stroke="none" stroke-width="1" shape-rendering="crispEdges"/>
<rect x="341.53" y="122.52" width="9.46" height="9.46" fill="#21918c" stroke="none" stroke-width="1" shape-rendering="crispEdges"/>
<rect x="350.38" y="122.52" width="9.46" height="9.46" fill="#20a386" stroke="none" stroke-width="1" shape-rendering="crispEdges"/>
<rect x="359.24" y="122.52" width="9.46" height="9.46" fill="#44bf70" stroke="none" stroke-width="1" shape-rendering="crispEdges"/>
<rect x="368.09" y="122.52" width="9.46" height="9.46" fill="#6ece58" stroke="none" stroke-width="1" shape-rendering="crispEdges"/>
<rect x="376.95" y="122.52" width="9.46" height="9.46" fill="#95d840" stroke="none" stroke-width="1" shape-rendering="crispEdges"/>
<rect x="385.81" y="122.52" width="9.46" height="9.46" fill="#b0dd2f" stroke="none" stroke-width="1" shape-rendering="crispEdges"/>
<rect x="394.66" y="122.52" width="9.46" height="9.46" fill="#c2df23" stroke="none" stroke-width="1" shape-rendering="crispEdges"/>
<rect x="403.52" y="122.52" width="9.46" height="9.46" fill="#d2e21b" stroke="none" stroke-width="1" shape-rendering="crispEdges"/>
<rect x="412.38" y="122.52" width="9.46" height="9.46" fill="#d8e219" stroke="none" stroke-width="1" shape-rendering="crispEdges"/>
<rect x="421.23" y="122.52" width="9.46" height="9.46" fill="#dae319" stroke="none" stroke-width="1" shape-rendering="crispEdges"/>
<rect x="430.09" y="122.52" width="9.46" height="9.46" fill="#d8e219" stroke="none" stroke-width="1" shape-rendering="crispEdges"/>
<rect x="438.94" y="122.52" width="9.46" height="9.46" fill="#d2e21b" stroke="none" stroke-width="1" shape-rendering="crispEdges"/>
<rect x="306.10" y="131.38" width="9.46" height="9.46" fill="#472a7a" stroke="none" stroke-width="1" shape-rendering="crispEdges"/>
<rect x="314.96" y="131.38" width="9.46" height="9.46" fill="#3e4989" stroke="none" stroke-width="1" shape-rendering="crispEdges"/>
<rect x="323.81" y="131.38" width="9.46" height="9.46" fill="#33628d" stroke="none" stroke-width="1" shape-rendering="crispEdges"/>
<rect x="332.67" y="131.38" width="9.46" height="9.46" fill="#2b758e" stroke="none" stroke-width="1" shape-rendering="crispEdges"/>
<rect x="341.53" y="131.38" width="9.46" height="9.46" fill="#24868e" stroke="none" stroke-width="1" shape-rendering="crispEdges"/>
<rect x="350.38" y="131.38" width="9.46" height="9.46" fill="#1e9c89" stroke="none" stroke-width="1" shape-rendering="crispEdges"/>
<rect x="359.24" y="131.38" width="9.46" height="9.46" fill="#2cb17e" stroke="none" stroke-width="1" shape-rendering="crispEdges"/>
<rect x="368.09" y="131.38" width="9.46" height="9.46" fill="#4ec36b" stroke="none" stroke-width="1" shape-rendering="crispEdges"/>
<rect x="376.95" y="131.38" width="9.46" height="9.46" fill="#6ece58" stroke="none" stroke-width="1" shape-rendering="crispEdges"/>
<rect x="385.81" y="131.38" width="9.46" height="9.46" fill="#95d840" stroke="none" stroke-width="1" shape-rendering="crispEdges"/>
<rect x="394.66" y="131.38" width="9.46" height="9.46" fill="#a8db34" stroke="none" stroke-width="1" shape-rendering="crispEdges"/>
<rect x="403.52" y="131.38" width="9.46" height="9.46" fill="#b5de2b" stroke="none" stroke-width="1" shape-rendering="crispEdges"/>
<rect x="412.38" y="131.38" width="9.46" height="9.46" fill="#bddf26" stroke="none" stroke-width="1" shape-rendering="crispEdges"/>
<rect x="421.23" y="131.38" width="9.46" height="9.46" fill="#c0df25" stroke="none" stroke-width="1" shape-rendering="crispEdges"/>
<rect x="430.09" y="131.38" width="9.46" height="9.46" fill="#bddf26" stroke="none" stroke-width="1" shape-rendering="crispEdges"/>
<rect x="438.94" y="131.38" width="9.46" height="9.46" fill="#b5de2b" stroke="none" stroke-width="1" shape-rendering="crispEdges"/>
<rect x="306.10" y="140.23" width="9.46" height="9.46" fill="#481a6c" stroke="none" stroke-width="1" shape-rendering="crispEdges"/>
<rect x="314.96" y="140.23" width="9.46" height="9.46" fill="#463480" stroke="none" stroke-width="1" shape-rendering="crispEdges"/>
<rect x="323.81" y="140.23" width="9.46" height="9.46" fill="#3b528b" stroke="none" stroke-width="1" shape-rendering="crispEdges"/>
<rect x="332.67" y="140.23" width="9.46" height="9.46" fill="#33628d" stroke="none" stroke-width="1" shape-rendering="crispEdges"/>
<rect x="341.53" y="140.23" width="9.46" height="9.46" fill="#2a788e" stroke="none" stroke-width="1" shape-rendering="crispEdges"/>
<rect x="350.38" y="140.23" width="9.46" height="9.46" fill="#23898e" stroke="none" stroke-width="1" shape-rendering="crispEdges"/>
<rect x="359.24" y="140.23" width="9.46" height="9.46" fill="#1e9c89" stroke="none" stroke-width="1" shape-rendering="crispEdges"/>
<rect x="368.09" y="140.23" width="9.46" height="9.46" fill="#29af7f" stroke="none" stroke-width="1" shape-rendering="crispEdges"/>
<rect x="376.95" y="140.23" width="9.46" height="9.46" fill="#48c16e" stroke="none" stroke-width="1" shape-rendering="crispEdges"/>
<rect x="385.81" y="140.23" width="9.46" height="9.46" fill="#63cb5f" stroke="none" stroke-width="1" shape-rendering="crispEdges"/>
<rect x="394.66" y="140.23" width="9.46" height="9.46" fill="#7ad151" stroke="none" stroke-width="1" shape-rendering="crispEdges"/>
<rect x="403.52" y="140.23" width="9.46" height="9.46" fill="#8ed645" stroke="none" stroke-width="1" shape-rendering="crispEdges"/>
<rect x="412.38" y="140.23" width="9.46" height="9.46" fill="#9bd93c" stroke="none" stroke-width="1" shape-rendering="crispEdges"/>
<rect x="421.23" y="140.23" width="9.46" height="9.46" fill="#9bd93c" stroke="none" stroke-width="1" shape-rendering="crispEdges"/>
<rect x="430.09" y="140.23" width="9.46" height="9.46" fill="#9bd93c" stroke="none" stroke-width="1" shape-rendering="crispEdges"/>
<rect x="438.94" y="140.23" width="9.46" height="9.46" fill="#8ed645" stroke="none" stroke-width="1" shape-rendering="crispEdges"/>
<rect x="306.10" y="149.09" width="9.46" height="9.46" fill="#471365" stroke="none" stroke-width="1" shape-rendering="crispEdges"/>
<rect x="314.96" y="149.09" width="9.46" height="9.46" fill="#472e7c" stroke="none" stroke-width="1" shape-rendering="crispEdges"/>
<rect x="323.81" y="149.09" width="9.46" height="9.46" fill="#404688" stroke="none" stroke-width="1" shape-rendering="crispEdges"/>
<rect x="332.67" y="149.09" width="9.46" height="9.46" fill="#375a8c" stroke="none" stroke-width="1" shape-rendering="crispEdges"/>
<rect x="341.53" y="149.09" width="9.46" height="9.46" fill="#2f6c8e" stroke="none" stroke-width="1" shape-rendering="crispEdges"/>
<rect x="350.38" y="149.09" width="9.46" height="9.46" fill="#27808e" stroke="none" stroke-width="1" shape-rendering="crispEdges"/>
<rect x="359.24" y="149.09" width="9.46" height="9.46" fill="#21918c" stroke="none" stroke-width="1" shape-rendering="crispEdges"/>
<rect x="368.09" y="149.09" width="9.46" height="9.46" fill="#22a884" stroke="none" stroke-width="1" shape-rendering="crispEdges"/>
<rect x="376.95" y="149.09" width="9.46" height="9.46" fill="#32b67a" stroke="none" stroke-width="1" shape-rendering="crispEdges"/>
<rect x="385.81" y="149.09" width="9.46" height="9.46" fill="#48c16e" stroke="none" stroke-width="1" shape-rendering="crispEdges"/>
<rect x="394.66" y="149.09" width="9.46" height="9.46" fill="#5ec962" stroke="none" stroke-width="1" shape-rendering="crispEdges"/>
<rect x="403.52" y="149.09" width="9.46" height="9.46" fill="#6ece58" stroke="none" stroke-width="1" shape-rendering="crispEdges"/>
<rect x="412.38" y="149.09" width="9.46" height="9.46" fill="#75d054" stroke="none" stroke-width="1" shape-rendering="crispEdges"/>
<rect x="421.23" y="149.09" width="9.46" height="9.46" fill="#75d054" stroke="none" stroke-width="1" shape-rendering="crispEdges"/>
<rect x="430.09" y="149.09" width="9.46" height="9.46" fill="#70cf57" stroke="none" stroke-width="1" shape-rendering="crispEdges"/>
<rect x="438.94" y="149.09" width="9.46" height="9.46" fill="#6ece58" stroke="none" stroke-width="1" shape-rendering="crispEdges"/>
<rect x="306.10" y="157.94" width="9.46" height="9.46" fill="#440154" stroke="none" stroke-width="1" shape-rendering="crispEdges"/>
<rect x="314.96" y="157.94" width="9.46" height="9.46" fill="#481d6f" stroke="none" stroke-width="1" shape-rendering="crispEdges"/>
<rect x="323.81" y="157.94" width="9.46" height="9.46" fill="#453781" stroke="none" stroke-width="1" shape-rendering="crispEdges"/>
<rect x="332.67" y="157.94" width="9.46" height="9.46" fill="#3e4c8a" stroke="none" stroke-width="1" shape-rendering="crispEdges"/>
<rect x="341.53" y="157.94" width="9.46" height="9.46" fill="#355f8d" stroke="none" stroke-width="1" shape-rendering="crispEdges"/>
<rect x="350.38" y="157.94" width="9.46" height="9.46" fill="#2d718e" stroke="none" stroke-width="1" shape-rendering="crispEdges"/>
<rect x="359.24" y="157.94" width="9.46" height="9.46" fill="#26828e" stroke="none" stroke-width="1" shape-rendering="crispEdges"/>
<rect x="368.09" y="157.94" width="9.46" height="9.46" fill="#20928c" stroke="none" stroke-width="1" shape-rendering="crispEdges"/>
<rect x="376.95" y="157.94" width="9.46" height="9.46" fill="#22a884" stroke="none" stroke-width="1" shape-rendering="crispEdges"/>
<rect x="385.81" y="157.94" width="9.46" height="9.46" fill="#2fb47c" stroke="none" stroke-width="1" shape-rendering="crispEdges"/>
<rect x="394.66" y="157.94" width="9.46" height="9.46" fill="#3fbc73" stroke="none" stroke-width="1" shape-rendering="crispEdges"/>
<rect x="403.52" y="157.94" width="9.46" height="9.46" fill="#48c16e" stroke="none" stroke-width="1" shape-rendering="crispEdges"/>
<rect x="412.38" y="157.94" width="9.46" height="9.46" fill="#4ec36b" stroke="none" stroke-width="1" shape-rendering="crispEdges"/>
<rect x="421.23" y="157.94" width="9.46" height="9.46" fill="#4ec36b" stroke="none" stroke-width="1" shape-rendering="crispEdges"/>
<rect x="430.09" y="157.94" width="9.46" height="9.46" fill="#4ec36b" stroke="none" stroke-width="1" shape-rendering="crispEdges"/>
<rect x="438.94" y="157.94" width="9.46" height="9.46" fill="#48c16e" stroke="none" stroke-width="1" shape-rendering="crispEdges"/>
<rect x="306.10" y="25.10" width="141.70" height="141.70" fill="none" stroke="#333" stroke-width="0.8" />
<line x1="302.60" y1="29.53" x2="306.10" y2="29.53" stroke="#3a3a3a" stroke-width="0.9" />
<line x1="302.60" y1="162.37" x2="306.10" y2="162.37" stroke="#3a3a3a" stroke-width="0.9" />
<text x="301.80" y="33.83" font-size="12.2" text-anchor="end" fill="#222" >0</text>
<text x="301.80" y="165.87" font-size="12.2" text-anchor="end" fill="#222" >0.15</text>
<line x1="310.53" y1="166.80" x2="310.53" y2="169.30" stroke="#3a3a3a" stroke-width="0.9" />
<line x1="443.37" y1="166.80" x2="443.37" y2="169.30" stroke="#3a3a3a" stroke-width="0.9" />
<text x="310.53" y="179.80" font-size="12.2" text-anchor="middle" fill="#222" >0</text>
<text x="443.37" y="179.80" font-size="12.2" text-anchor="middle" fill="#222" >0.15</text>
<text x="376" y="191.3" font-size="12.6" fill="#222"><tspan font-style="italic">θ</tspan><tspan font-size="9" dy="2.2">2</tspan></text>
<g transform="translate(282.4,96.7) rotate(-90)"><text x="0" y="0" font-size="12.6" fill="#222"><tspan font-style="italic">θ</tspan><tspan font-size="9" dy="2.2">1</tspan></text></g>
<defs><linearGradient id="gv" x1="0" y1="0" x2="0" y2="1"><stop offset="0.000" stop-color="#fde725"/><stop offset="0.050" stop-color="#dfe318"/><stop offset="0.100" stop-color="#bddf26"/><stop offset="0.150" stop-color="#9bd93c"/><stop offset="0.200" stop-color="#7ad151"/><stop offset="0.250" stop-color="#5ec962"/><stop offset="0.300" stop-color="#44bf70"/><stop offset="0.350" stop-color="#2fb47c"/><stop offset="0.400" stop-color="#22a884"/><stop offset="0.450" stop-color="#1e9c89"/><stop offset="0.500" stop-color="#21918c"/><stop offset="0.550" stop-color="#25848e"/><stop offset="0.600" stop-color="#2a788e"/><stop offset="0.650" stop-color="#2f6c8e"/><stop offset="0.700" stop-color="#355f8d"/><stop offset="0.750" stop-color="#3b528b"/><stop offset="0.800" stop-color="#414487"/><stop offset="0.850" stop-color="#463480"/><stop offset="0.900" stop-color="#482475"/><stop offset="0.950" stop-color="#471365"/><stop offset="1.000" stop-color="#440154"/></linearGradient></defs>
<rect x="452.50" y="24.40" width="7.40" height="142.80" fill="url(#gv)" stroke="#777" stroke-width="0.6" />
<line x1="459.90" y1="24.70" x2="462.20" y2="24.70" stroke="#3a3a3a" stroke-width="0.9" />
<line x1="459.90" y1="150.30" x2="462.20" y2="150.30" stroke="#3a3a3a" stroke-width="0.9" />
<text x="464.60" y="28.90" font-size="12.2" text-anchor="start" fill="#222" >0.973</text>
<text x="464.60" y="154.50" font-size="12.2" text-anchor="start" fill="#222" >0.968</text>
<text x="519.30" y="10.00" font-size="13.5" text-anchor="start" fill="#1a1a1a" >c)</text>
<line x1="521.40" y1="39.10" x2="521.40" y2="51.60" stroke="#222" stroke-width="0.8" />
<text transform="translate(523.36,48.90) scale(1.106,1)" font-size="12.8" fill="#222">0</text>
<path d="M 530.30 39.10 L 533.60 45.50 L 530.30 51.60" stroke="#222" stroke-width="0.75" fill="none" />
<line x1="540.80" y1="45.50" x2="550.30" y2="45.50" stroke="#444" stroke-width="0.9" />
<line x1="570.40" y1="45.50" x2="579.00" y2="45.50" stroke="#444" stroke-width="0.9" />
<line x1="626.70" y1="45.50" x2="634.40" y2="45.50" stroke="#444" stroke-width="0.9" />
<circle cx="637.2" cy="45.5" r="0.75" fill="#222"/>
<circle cx="642.3" cy="45.5" r="0.75" fill="#222"/>
<circle cx="647.4" cy="45.5" r="0.75" fill="#222"/>
<line x1="652.40" y1="45.50" x2="661.60" y2="45.50" stroke="#444" stroke-width="0.9" />
<line x1="521.40" y1="63.20" x2="521.40" y2="75.70" stroke="#222" stroke-width="0.8" />
<text transform="translate(523.36,73.00) scale(1.106,1)" font-size="12.8" fill="#222">0</text>
<path d="M 530.30 63.20 L 533.60 69.60 L 530.30 75.70" stroke="#222" stroke-width="0.75" fill="none" />
<line x1="540.80" y1="69.60" x2="550.30" y2="69.60" stroke="#444" stroke-width="0.9" />
<line x1="570.40" y1="69.60" x2="579.00" y2="69.60" stroke="#444" stroke-width="0.9" />
<line x1="626.70" y1="69.60" x2="634.40" y2="69.60" stroke="#444" stroke-width="0.9" />
<circle cx="637.2" cy="69.6" r="0.75" fill="#222"/>
<circle cx="642.3" cy="69.6" r="0.75" fill="#222"/>
<circle cx="647.4" cy="69.6" r="0.75" fill="#222"/>
<line x1="652.40" y1="69.60" x2="661.60" y2="69.60" stroke="#444" stroke-width="0.9" />
<rect x="550.30" y="39.50" width="20.10" height="36.10" fill="#fff" stroke="#444" stroke-width="0.9" />
<path d="M 562.60 53.50 C 560.90 52.80 557.50 54.80 557.35 58.20 C 557.25 60.60 558.50 61.90 560.00 61.80 C 561.20 61.70 562.50 60.90 563.30 60.10" stroke="#222" stroke-width="1.0" fill="none" stroke-linecap="round"/>
<path d="M 559.10 54.50 C 557.90 55.90 557.70 58.40 558.20 60.40" stroke="#222" stroke-width="0.85" fill="none" />
<path d="M 563.00 53.10 L 562.40 55.00" stroke="#222" stroke-width="1.3" fill="none" stroke-linecap="round"/>
<rect x="579.00" y="35.20" width="47.70" height="20.30" fill="#fff" stroke="#444" stroke-width="0.9" />
<text transform="translate(583.58,48.55) scale(1.212,1)" font-size="12.8" font-style="italic" fill="#222">R</text>
<text transform="translate(593.05,50.95) scale(1.378,1)" font-size="9.2" font-style="italic" fill="#222">Z</text>
<text transform="translate(600.94,48.55) scale(1.000,1)" font-size="12.8" fill="#222">(</text>
<text transform="translate(605.53,48.55) scale(0.914,1)" font-size="12.8" font-style="italic" fill="#222">θ</text>
<text transform="translate(610.61,50.45) scale(1.000,1)" font-size="9.0" fill="#222">1</text>
<text transform="translate(617.19,48.55) scale(1.000,1)" font-size="12.8" fill="#222">)</text>
<rect x="579.00" y="59.30" width="47.70" height="20.60" fill="#fff" stroke="#444" stroke-width="0.9" />
<text transform="translate(583.58,72.80) scale(1.212,1)" font-size="12.8" font-style="italic" fill="#222">R</text>
<text transform="translate(593.05,75.20) scale(1.378,1)" font-size="9.2" font-style="italic" fill="#222">Z</text>
<text transform="translate(600.94,72.80) scale(1.000,1)" font-size="12.8" fill="#222">(</text>
<text transform="translate(605.53,72.80) scale(0.914,1)" font-size="12.8" font-style="italic" fill="#222">θ</text>
<text transform="translate(611.00,74.70) scale(1.000,1)" font-size="9.0" fill="#222">2</text>
<text transform="translate(617.19,72.80) scale(1.000,1)" font-size="12.8" fill="#222">)</text>
<rect x="661.60" y="36.50" width="22.70" height="17.90" fill="#fff" stroke="#444" stroke-width="0.9" />
<path d="M 663.20 49.39 C 668.41 43.66 677.49 43.66 682.70 49.39" stroke="#222" stroke-width="0.8" fill="none" />
<line x1="673.40" y1="50.46" x2="679.76" y2="39.19" stroke="#222" stroke-width="0.8" />
<rect x="661.60" y="60.60" width="22.70" height="17.90" fill="#fff" stroke="#444" stroke-width="0.9" />
<path d="M 663.20 73.49 C 668.41 67.76 677.49 67.76 682.70 73.49" stroke="#222" stroke-width="0.8" fill="none" />
<line x1="673.40" y1="74.56" x2="679.76" y2="63.29" stroke="#222" stroke-width="0.8" />
<path d="M 553.00 82.00 Q 554.20 85.38 561.00 85.38 L 594.00 85.38 Q 599.95 85.38 601.00 89.50 Q 602.05 85.38 608.00 85.38 L 641.00 85.38 Q 647.80 85.38 649.00 82.00" stroke="#222" stroke-width="0.8" fill="none" />
<text x="604.6" y="97.6" font-size="10.6" text-anchor="middle" fill="#222"><tspan font-style="italic">m</tspan> times</text>
<text x="519.30" y="114.20" font-size="13.5" text-anchor="start" fill="#1a1a1a" >d)</text>
<line x1="520.70" y1="131.60" x2="520.70" y2="144.10" stroke="#222" stroke-width="0.8" />
<text transform="translate(522.66,141.40) scale(1.106,1)" font-size="12.8" fill="#222">0</text>
<path d="M 529.60 131.60 L 532.90 138.00 L 529.60 144.10" stroke="#222" stroke-width="0.75" fill="none" />
<line x1="542.00" y1="138.00" x2="552.20" y2="138.00" stroke="#444" stroke-width="0.9" />
<rect x="552.20" y="129.60" width="16.70" height="17.60" fill="#fff" stroke="#444" stroke-width="0.9" />
<path d="M 562.64 135.09 C 560.64 134.40 556.65 136.36 556.48 139.68 C 556.36 142.03 557.83 143.30 559.59 143.20 C 560.99 143.11 562.52 142.32 563.46 141.54" stroke="#222" stroke-width="1.0" fill="none" stroke-linecap="round"/>
<path d="M 558.53 136.07 C 557.12 137.44 556.89 139.88 557.47 141.84" stroke="#222" stroke-width="0.85" fill="none" />
<path d="M 563.11 134.70 L 562.40 136.56" stroke="#222" stroke-width="1.3" fill="none" stroke-linecap="round"/>
<line x1="568.90" y1="138.00" x2="578.00" y2="138.00" stroke="#444" stroke-width="0.9" />
<line x1="608.80" y1="138.00" x2="618.80" y2="138.00" stroke="#444" stroke-width="0.9" />
<circle cx="622.3" cy="138.0" r="0.75" fill="#222"/>
<circle cx="628.2" cy="138.0" r="0.75" fill="#222"/>
<circle cx="634.0" cy="138.0" r="0.75" fill="#222"/>
<line x1="638.00" y1="138.00" x2="647.60" y2="138.00" stroke="#444" stroke-width="0.9" />
<line x1="520.70" y1="155.00" x2="520.70" y2="167.50" stroke="#222" stroke-width="0.8" />
<text transform="translate(522.66,164.80) scale(1.106,1)" font-size="12.8" fill="#222">0</text>
<path d="M 529.60 155.00 L 532.90 161.40 L 529.60 167.50" stroke="#222" stroke-width="0.75" fill="none" />
<line x1="542.00" y1="161.40" x2="552.20" y2="161.40" stroke="#444" stroke-width="0.9" />
<rect x="552.20" y="153.00" width="16.70" height="17.80" fill="#fff" stroke="#444" stroke-width="0.9" />
<path d="M 562.64 158.49 C 560.64 157.80 556.65 159.76 556.48 163.08 C 556.36 165.43 557.83 166.70 559.59 166.60 C 560.99 166.51 562.52 165.72 563.46 164.94" stroke="#222" stroke-width="1.0" fill="none" stroke-linecap="round"/>
<path d="M 558.53 159.47 C 557.12 160.84 556.89 163.28 557.47 165.24" stroke="#222" stroke-width="0.85" fill="none" />
<path d="M 563.11 158.10 L 562.40 159.96" stroke="#222" stroke-width="1.3" fill="none" stroke-linecap="round"/>
<line x1="568.90" y1="161.40" x2="578.00" y2="161.40" stroke="#444" stroke-width="0.9" />
<line x1="608.80" y1="161.40" x2="618.80" y2="161.40" stroke="#444" stroke-width="0.9" />
<circle cx="622.3" cy="161.4" r="0.75" fill="#222"/>
<circle cx="628.2" cy="161.4" r="0.75" fill="#222"/>
<circle cx="634.0" cy="161.4" r="0.75" fill="#222"/>
<line x1="638.00" y1="161.40" x2="647.60" y2="161.40" stroke="#444" stroke-width="0.9" />
<rect x="578.00" y="132.10" width="30.80" height="35.50" fill="#fff" stroke="#444" stroke-width="0.9" />
<path d="M 584.71 153.69 Q 587.05 154.10 588.27 150.13 L 589.49 143.92" stroke="#222" stroke-width="0.9" fill="none" stroke-linecap="round"/>
<path d="M 589.49 143.92 L 593.16 153.69" stroke="#222" stroke-width="1.5" fill="none" stroke-linecap="round"/>
<path d="M 593.16 153.69 Q 594.89 145.65 598.55 143.41" stroke="#222" stroke-width="0.9" fill="none" stroke-linecap="round"/>
<text x="596.7" y="156.0" font-size="9.5" font-style="italic" fill="#222">c</text>
<rect x="647.60" y="128.40" width="25.10" height="19.80" fill="#fff" stroke="#444" stroke-width="0.9" />
<path d="M 649.20 142.66 C 655.13 136.32 665.17 136.32 671.10 142.66" stroke="#222" stroke-width="0.8" fill="none" />
<line x1="660.65" y1="143.84" x2="667.68" y2="131.37" stroke="#222" stroke-width="0.8" />
<rect x="647.60" y="152.20" width="25.10" height="19.60" fill="#fff" stroke="#444" stroke-width="0.9" />
<path d="M 649.20 166.31 C 655.13 160.04 665.17 160.04 671.10 166.31" stroke="#222" stroke-width="0.8" fill="none" />
<line x1="660.65" y1="167.49" x2="667.68" y2="155.14" stroke="#222" stroke-width="0.8" />
<path d="M 553.10 174.90 Q 554.30 177.91 561.10 177.91 L 587.55 177.91 Q 593.50 177.91 594.55 181.60 Q 595.60 177.91 601.55 177.91 L 628.00 177.91 Q 634.80 177.91 636.00 174.90" stroke="#222" stroke-width="0.8" fill="none" />
<text x="597.2" y="190.8" font-size="10.6" text-anchor="middle" fill="#222"><tspan font-style="italic">m</tspan> times</text>
<text x="-0.50" y="217.90" font-size="13.5" text-anchor="start" fill="#1a1a1a" >e)</text>
<rect x="41.05" y="238.55" width="144.48" height="144.48" fill="#f5f5f5" stroke="none" stroke-width="1" />
<rect x="131.35" y="310.79" width="9.03" height="9.03" fill="#f7eee9" stroke="none" stroke-width="1" />
<rect x="113.29" y="319.82" width="9.03" height="9.03" fill="#f8ede8" stroke="none" stroke-width="1" />
<rect x="158.44" y="328.85" width="9.03" height="9.03" fill="#eff2f6" stroke="none" stroke-width="1" />
<rect x="122.32" y="337.88" width="9.03" height="9.03" fill="#e6eef5" stroke="none" stroke-width="1" />
<rect x="158.44" y="337.88" width="9.03" height="9.03" fill="#f9ebe2" stroke="none" stroke-width="1" />
<rect x="113.29" y="346.91" width="9.03" height="9.03" fill="#e6eff5" stroke="none" stroke-width="1" />
<rect x="158.44" y="346.91" width="9.03" height="9.03" fill="#f7efea" stroke="none" stroke-width="1" />
<rect x="131.35" y="355.94" width="9.03" height="9.03" fill="#f8eee8" stroke="none" stroke-width="1" />
<rect x="131.35" y="364.97" width="9.03" height="9.03" fill="#e9eff5" stroke="none" stroke-width="1" />
<rect x="113.29" y="374.00" width="9.03" height="9.03" fill="#f7f0eb" stroke="none" stroke-width="1" />
<rect x="131.35" y="374.00" width="9.03" height="9.03" fill="#ebf0f5" stroke="none" stroke-width="1" />
<rect x="59.11" y="265.64" width="9.03" height="9.03" fill="#eef2f7" stroke="none" stroke-width="1" />
<rect x="40.95" y="238.45" width="9.23" height="9.23" fill="#0b3a73" stroke="none" stroke-width="1" />
<rect x="49.98" y="247.48" width="9.23" height="9.23" fill="#0a3370" stroke="none" stroke-width="1" />
<rect x="59.01" y="256.51" width="9.23" height="9.23" fill="#154f8f" stroke="none" stroke-width="1" />
<rect x="68.04" y="265.54" width="9.23" height="9.23" fill="#114890" stroke="none" stroke-width="1" />
<rect x="77.07" y="274.57" width="9.23" height="9.23" fill="#093a76" stroke="none" stroke-width="1" />
<rect x="86.10" y="283.60" width="9.23" height="9.23" fill="#154e90" stroke="none" stroke-width="1" />
<rect x="95.13" y="292.63" width="9.23" height="9.23" fill="#124a8e" stroke="none" stroke-width="1" />
<rect x="104.16" y="301.66" width="9.23" height="9.23" fill="#0a3570" stroke="none" stroke-width="1" />
<rect x="113.19" y="310.69" width="9.23" height="9.23" fill="#2465aa" stroke="none" stroke-width="1" />
<rect x="122.22" y="319.72" width="9.23" height="9.23" fill="#2166ac" stroke="none" stroke-width="1" />
<rect x="131.25" y="328.75" width="9.23" height="9.23" fill="#2a6db0" stroke="none" stroke-width="1" />
<rect x="140.28" y="337.78" width="9.23" height="9.23" fill="#0b3e7a" stroke="none" stroke-width="1" />
<rect x="149.31" y="346.81" width="9.23" height="9.23" fill="#062f66" stroke="none" stroke-width="1" />
<rect x="158.34" y="355.84" width="9.23" height="9.23" fill="#2767ad" stroke="none" stroke-width="1" />
<rect x="167.37" y="364.87" width="9.23" height="9.23" fill="#0a3370" stroke="none" stroke-width="1" />
<rect x="176.40" y="373.90" width="9.23" height="9.23" fill="#0c3a75" stroke="none" stroke-width="1" />
<rect x="50.08" y="247.58" width="27.09" height="27.09" fill="none" stroke="#333" stroke-width="0.8" stroke-dasharray="2.6,1.8"/>
<rect x="77.17" y="274.67" width="27.09" height="27.09" fill="none" stroke="#333" stroke-width="0.8" stroke-dasharray="2.6,1.8"/>
<line x1="104.26" y1="301.76" x2="185.53" y2="301.76" stroke="#333" stroke-width="0.8" stroke-dasharray="2.6,1.8"/>
<line x1="104.26" y1="301.76" x2="104.26" y2="383.03" stroke="#333" stroke-width="0.8" stroke-dasharray="2.6,1.8"/>
<line x1="104.26" y1="382.13" x2="185.53" y2="382.13" stroke="#555" stroke-width="0.7" stroke-dasharray="2.6,1.8"/>
<rect x="41.05" y="238.55" width="144.48" height="144.48" fill="none" stroke="#3a3a3a" stroke-width="0.9" />
<line x1="38.75" y1="243.06" x2="41.05" y2="243.06" stroke="#3a3a3a" stroke-width="0.7" />
<line x1="45.56" y1="383.03" x2="45.56" y2="385.33" stroke="#3a3a3a" stroke-width="0.7" />
<line x1="38.75" y1="252.09" x2="41.05" y2="252.09" stroke="#3a3a3a" stroke-width="0.7" />
<line x1="54.59" y1="383.03" x2="54.59" y2="385.33" stroke="#3a3a3a" stroke-width="0.7" />
<line x1="38.75" y1="261.12" x2="41.05" y2="261.12" stroke="#3a3a3a" stroke-width="0.7" />
<line x1="63.62" y1="383.03" x2="63.62" y2="385.33" stroke="#3a3a3a" stroke-width="0.7" />
<line x1="38.75" y1="270.16" x2="41.05" y2="270.16" stroke="#3a3a3a" stroke-width="0.7" />
<line x1="72.66" y1="383.03" x2="72.66" y2="385.33" stroke="#3a3a3a" stroke-width="0.7" />
<line x1="38.75" y1="279.19" x2="41.05" y2="279.19" stroke="#3a3a3a" stroke-width="0.7" />
<line x1="81.69" y1="383.03" x2="81.69" y2="385.33" stroke="#3a3a3a" stroke-width="0.7" />
<line x1="38.75" y1="288.22" x2="41.05" y2="288.22" stroke="#3a3a3a" stroke-width="0.7" />
<line x1="90.72" y1="383.03" x2="90.72" y2="385.33" stroke="#3a3a3a" stroke-width="0.7" />
<line x1="38.75" y1="297.25" x2="41.05" y2="297.25" stroke="#3a3a3a" stroke-width="0.7" />
<line x1="99.74" y1="383.03" x2="99.74" y2="385.33" stroke="#3a3a3a" stroke-width="0.7" />
<line x1="38.75" y1="306.27" x2="41.05" y2="306.27" stroke="#3a3a3a" stroke-width="0.7" />
<line x1="108.77" y1="383.03" x2="108.77" y2="385.33" stroke="#3a3a3a" stroke-width="0.7" />
<line x1="38.75" y1="315.31" x2="41.05" y2="315.31" stroke="#3a3a3a" stroke-width="0.7" />
<line x1="117.80" y1="383.03" x2="117.80" y2="385.33" stroke="#3a3a3a" stroke-width="0.7" />
<line x1="38.75" y1="324.34" x2="41.05" y2="324.34" stroke="#3a3a3a" stroke-width="0.7" />
<line x1="126.83" y1="383.03" x2="126.83" y2="385.33" stroke="#3a3a3a" stroke-width="0.7" />
<line x1="38.75" y1="333.37" x2="41.05" y2="333.37" stroke="#3a3a3a" stroke-width="0.7" />
<line x1="135.87" y1="383.03" x2="135.87" y2="385.33" stroke="#3a3a3a" stroke-width="0.7" />
<line x1="38.75" y1="342.39" x2="41.05" y2="342.39" stroke="#3a3a3a" stroke-width="0.7" />
<line x1="144.89" y1="383.03" x2="144.89" y2="385.33" stroke="#3a3a3a" stroke-width="0.7" />
<line x1="38.75" y1="351.43" x2="41.05" y2="351.43" stroke="#3a3a3a" stroke-width="0.7" />
<line x1="153.92" y1="383.03" x2="153.92" y2="385.33" stroke="#3a3a3a" stroke-width="0.7" />
<line x1="38.75" y1="360.45" x2="41.05" y2="360.45" stroke="#3a3a3a" stroke-width="0.7" />
<line x1="162.95" y1="383.03" x2="162.95" y2="385.33" stroke="#3a3a3a" stroke-width="0.7" />
<line x1="38.75" y1="369.49" x2="41.05" y2="369.49" stroke="#3a3a3a" stroke-width="0.7" />
<line x1="171.99" y1="383.03" x2="171.99" y2="385.33" stroke="#3a3a3a" stroke-width="0.7" />
<line x1="38.75" y1="378.51" x2="41.05" y2="378.51" stroke="#3a3a3a" stroke-width="0.7" />
<line x1="181.01" y1="383.03" x2="181.01" y2="385.33" stroke="#3a3a3a" stroke-width="0.7" />
<rect x="21.85" y="238.70" width="1.70" height="8.30" fill="#cdcdcd" stroke="none" stroke-width="1" />
<line x1="21.85" y1="238.70" x2="21.85" y2="247.00" stroke="#4a4a4a" stroke-width="0.65" />
<line x1="23.55" y1="238.70" x2="23.55" y2="247.00" stroke="#4a4a4a" stroke-width="0.65" />
<line x1="20.55" y1="238.70" x2="24.85" y2="238.70" stroke="#4a4a4a" stroke-width="0.7" />
<line x1="20.55" y1="247.00" x2="24.85" y2="247.00" stroke="#4a4a4a" stroke-width="0.7" />
<rect x="26.50" y="238.70" width="1.70" height="8.30" fill="#cdcdcd" stroke="none" stroke-width="1" />
<line x1="26.50" y1="238.70" x2="26.50" y2="247.00" stroke="#4a4a4a" stroke-width="0.65" />
<line x1="28.20" y1="238.70" x2="28.20" y2="247.00" stroke="#4a4a4a" stroke-width="0.65" />
<line x1="25.20" y1="238.70" x2="29.50" y2="238.70" stroke="#4a4a4a" stroke-width="0.7" />
<line x1="25.20" y1="247.00" x2="29.50" y2="247.00" stroke="#4a4a4a" stroke-width="0.7" />
<rect x="15.10" y="256.00" width="1.70" height="8.30" fill="#cdcdcd" stroke="none" stroke-width="1" />
<line x1="15.10" y1="256.00" x2="15.10" y2="264.30" stroke="#4a4a4a" stroke-width="0.65" />
<line x1="16.80" y1="256.00" x2="16.80" y2="264.30" stroke="#4a4a4a" stroke-width="0.65" />
<line x1="13.80" y1="256.00" x2="18.10" y2="256.00" stroke="#4a4a4a" stroke-width="0.7" />
<line x1="13.80" y1="264.30" x2="18.10" y2="264.30" stroke="#4a4a4a" stroke-width="0.7" />
<rect x="19.75" y="256.00" width="1.70" height="8.30" fill="#cdcdcd" stroke="none" stroke-width="1" />
<line x1="19.75" y1="256.00" x2="19.75" y2="264.30" stroke="#4a4a4a" stroke-width="0.65" />
<line x1="21.45" y1="256.00" x2="21.45" y2="264.30" stroke="#4a4a4a" stroke-width="0.65" />
<line x1="18.45" y1="264.30" x2="22.85" y2="264.30" stroke="#4a4a4a" stroke-width="0.7" />
<path d="M 18.45 256.00 L 22.85 256.00 C 25.15 256.00 25.45 257.00 25.45 258.30 C 25.45 259.70 24.45 260.50 22.85 260.50 L 21.45 260.50" stroke="#4a4a4a" stroke-width="0.75" fill="none" />
<text x="25.90" y="266.20" font-size="8.0" text-anchor="start" fill="#4a4a4a" >0</text>
<rect x="13.75" y="283.10" width="1.70" height="8.30" fill="#cdcdcd" stroke="none" stroke-width="1" />
<line x1="13.75" y1="283.10" x2="13.75" y2="291.40" stroke="#4a4a4a" stroke-width="0.65" />
<line x1="15.45" y1="283.10" x2="15.45" y2="291.40" stroke="#4a4a4a" stroke-width="0.65" />
<line x1="12.45" y1="291.40" x2="16.85" y2="291.40" stroke="#4a4a4a" stroke-width="0.7" />
<path d="M 12.45 283.10 L 16.85 283.10 C 19.15 283.10 19.45 284.10 19.45 285.40 C 19.45 286.80 18.45 287.60 16.85 287.60 L 15.45 287.60" stroke="#4a4a4a" stroke-width="0.75" fill="none" />
<text x="19.90" y="293.30" font-size="8.0" text-anchor="start" fill="#4a4a4a" >0</text>
<rect x="25.60" y="283.10" width="1.70" height="8.30" fill="#cdcdcd" stroke="none" stroke-width="1" />
<line x1="25.60" y1="283.10" x2="25.60" y2="291.40" stroke="#4a4a4a" stroke-width="0.65" />
<line x1="27.30" y1="283.10" x2="27.30" y2="291.40" stroke="#4a4a4a" stroke-width="0.65" />
<line x1="24.30" y1="283.10" x2="28.60" y2="283.10" stroke="#4a4a4a" stroke-width="0.7" />
<line x1="24.30" y1="291.40" x2="28.60" y2="291.40" stroke="#4a4a4a" stroke-width="0.7" />
<rect x="7.60" y="338.00" width="1.70" height="8.30" fill="#cdcdcd" stroke="none" stroke-width="1" />
<line x1="7.60" y1="338.00" x2="7.60" y2="346.30" stroke="#4a4a4a" stroke-width="0.65" />
<line x1="9.30" y1="338.00" x2="9.30" y2="346.30" stroke="#4a4a4a" stroke-width="0.65" />
<line x1="6.30" y1="346.30" x2="10.70" y2="346.30" stroke="#4a4a4a" stroke-width="0.7" />
<path d="M 6.30 338.00 L 10.70 338.00 C 13.00 338.00 13.30 339.00 13.30 340.30 C 13.30 341.70 12.30 342.50 10.70 342.50 L 9.30 342.50" stroke="#4a4a4a" stroke-width="0.75" fill="none" />
<text x="13.75" y="348.20" font-size="8.0" text-anchor="start" fill="#4a4a4a" >0</text>
<rect x="19.45" y="338.00" width="1.70" height="8.30" fill="#cdcdcd" stroke="none" stroke-width="1" />
<line x1="19.45" y1="338.00" x2="19.45" y2="346.30" stroke="#4a4a4a" stroke-width="0.65" />
<line x1="21.15" y1="338.00" x2="21.15" y2="346.30" stroke="#4a4a4a" stroke-width="0.65" />
<line x1="18.15" y1="346.30" x2="22.55" y2="346.30" stroke="#4a4a4a" stroke-width="0.7" />
<path d="M 18.15 338.00 L 22.55 338.00 C 24.85 338.00 25.15 339.00 25.15 340.30 C 25.15 341.70 24.15 342.50 22.55 342.50 L 21.15 342.50" stroke="#4a4a4a" stroke-width="0.75" fill="none" />
<text x="25.60" y="348.20" font-size="8.0" text-anchor="start" fill="#4a4a4a" >0</text>
<path d="M 37.30 252.10 Q 35.54 252.47 35.54 254.60 L 35.54 258.70 Q 35.54 260.82 33.40 261.20 Q 35.54 261.57 35.54 263.70 L 35.54 267.80 Q 35.54 269.93 37.30 270.30" stroke="#4a4a4a" stroke-width="0.8" fill="none" />
<path d="M 37.30 278.90 Q 35.54 279.27 35.54 281.40 L 35.54 285.70 Q 35.54 287.82 33.40 288.20 Q 35.54 288.57 35.54 290.70 L 35.54 295.00 Q 35.54 297.12 37.30 297.50" stroke="#4a4a4a" stroke-width="0.8" fill="none" />
<path d="M 38.00 306.00 Q 34.85 306.75 34.85 311.00 L 34.85 337.50 Q 34.85 341.75 31.00 342.50 Q 34.85 343.25 34.85 347.50 L 34.85 374.00 Q 34.85 378.25 38.00 379.00" stroke="#4a4a4a" stroke-width="0.85" fill="none" />
<path d="M 54.90 384.40 Q 55.27 387.05 57.40 387.05 L 61.30 387.05 Q 63.42 387.05 63.80 390.30 Q 64.17 387.05 66.30 387.05 L 70.20 387.05 Q 72.33 387.05 72.70 384.40" stroke="#4a4a4a" stroke-width="0.8" fill="none" />
<path d="M 81.90 384.40 Q 82.28 387.05 84.40 387.05 L 88.35 387.05 Q 90.47 387.05 90.85 390.30 Q 91.22 387.05 93.35 387.05 L 97.30 387.05 Q 99.42 387.05 99.80 384.40" stroke="#4a4a4a" stroke-width="0.8" fill="none" />
<path d="M 108.50 384.20 Q 109.25 387.98 113.50 387.98 L 140.25 387.98 Q 144.50 387.98 145.25 392.60 Q 146.00 387.98 150.25 387.98 L 177.00 387.98 Q 181.25 387.98 182.00 384.20" stroke="#4a4a4a" stroke-width="0.85" fill="none" />
<rect x="42.55" y="394.90" width="1.70" height="8.30" fill="#cdcdcd" stroke="none" stroke-width="1" />
<line x1="42.55" y1="394.90" x2="42.55" y2="403.20" stroke="#4a4a4a" stroke-width="0.65" />
<line x1="44.25" y1="394.90" x2="44.25" y2="403.20" stroke="#4a4a4a" stroke-width="0.65" />
<line x1="41.25" y1="394.90" x2="45.55" y2="394.90" stroke="#4a4a4a" stroke-width="0.7" />
<line x1="41.25" y1="403.20" x2="45.55" y2="403.20" stroke="#4a4a4a" stroke-width="0.7" />
<rect x="47.20" y="394.90" width="1.70" height="8.30" fill="#cdcdcd" stroke="none" stroke-width="1" />
<line x1="47.20" y1="394.90" x2="47.20" y2="403.20" stroke="#4a4a4a" stroke-width="0.65" />
<line x1="48.90" y1="394.90" x2="48.90" y2="403.20" stroke="#4a4a4a" stroke-width="0.65" />
<line x1="45.90" y1="394.90" x2="50.20" y2="394.90" stroke="#4a4a4a" stroke-width="0.7" />
<line x1="45.90" y1="403.20" x2="50.20" y2="403.20" stroke="#4a4a4a" stroke-width="0.7" />
<rect x="57.05" y="394.90" width="1.70" height="8.30" fill="#cdcdcd" stroke="none" stroke-width="1" />
<line x1="57.05" y1="394.90" x2="57.05" y2="403.20" stroke="#4a4a4a" stroke-width="0.65" />
<line x1="58.75" y1="394.90" x2="58.75" y2="403.20" stroke="#4a4a4a" stroke-width="0.65" />
<line x1="55.75" y1="394.90" x2="60.05" y2="394.90" stroke="#4a4a4a" stroke-width="0.7" />
<line x1="55.75" y1="403.20" x2="60.05" y2="403.20" stroke="#4a4a4a" stroke-width="0.7" />
<rect x="61.70" y="394.90" width="1.70" height="8.30" fill="#cdcdcd" stroke="none" stroke-width="1" />
<line x1="61.70" y1="394.90" x2="61.70" y2="403.20" stroke="#4a4a4a" stroke-width="0.65" />
<line x1="63.40" y1="394.90" x2="63.40" y2="403.20" stroke="#4a4a4a" stroke-width="0.65" />
<line x1="60.40" y1="403.20" x2="64.80" y2="403.20" stroke="#4a4a4a" stroke-width="0.7" />
<path d="M 60.40 394.90 L 64.80 394.90 C 67.10 394.90 67.40 395.90 67.40 397.20 C 67.40 398.60 66.40 399.40 64.80 399.40 L 63.40 399.40" stroke="#4a4a4a" stroke-width="0.75" fill="none" />
<text x="67.85" y="405.10" font-size="8.0" text-anchor="start" fill="#4a4a4a" >0</text>
<rect x="84.35" y="394.90" width="1.70" height="8.30" fill="#cdcdcd" stroke="none" stroke-width="1" />
<line x1="84.35" y1="394.90" x2="84.35" y2="403.20" stroke="#4a4a4a" stroke-width="0.65" />
<line x1="86.05" y1="394.90" x2="86.05" y2="403.20" stroke="#4a4a4a" stroke-width="0.65" />
<line x1="83.05" y1="403.20" x2="87.45" y2="403.20" stroke="#4a4a4a" stroke-width="0.7" />
<path d="M 83.05 394.90 L 87.45 394.90 C 89.75 394.90 90.05 395.90 90.05 397.20 C 90.05 398.60 89.05 399.40 87.45 399.40 L 86.05 399.40" stroke="#4a4a4a" stroke-width="0.75" fill="none" />
<text x="90.50" y="405.10" font-size="8.0" text-anchor="start" fill="#4a4a4a" >0</text>
<rect x="96.20" y="394.90" width="1.70" height="8.30" fill="#cdcdcd" stroke="none" stroke-width="1" />
<line x1="96.20" y1="394.90" x2="96.20" y2="403.20" stroke="#4a4a4a" stroke-width="0.65" />
<line x1="97.90" y1="394.90" x2="97.90" y2="403.20" stroke="#4a4a4a" stroke-width="0.65" />
<line x1="94.90" y1="394.90" x2="99.20" y2="394.90" stroke="#4a4a4a" stroke-width="0.7" />
<line x1="94.90" y1="403.20" x2="99.20" y2="403.20" stroke="#4a4a4a" stroke-width="0.7" />
<rect x="135.75" y="394.90" width="1.70" height="8.30" fill="#cdcdcd" stroke="none" stroke-width="1" />
<line x1="135.75" y1="394.90" x2="135.75" y2="403.20" stroke="#4a4a4a" stroke-width="0.65" />
<line x1="137.45" y1="394.90" x2="137.45" y2="403.20" stroke="#4a4a4a" stroke-width="0.65" />
<line x1="134.45" y1="403.20" x2="138.85" y2="403.20" stroke="#4a4a4a" stroke-width="0.7" />
<path d="M 134.45 394.90 L 138.85 394.90 C 141.15 394.90 141.45 395.90 141.45 397.20 C 141.45 398.60 140.45 399.40 138.85 399.40 L 137.45 399.40" stroke="#4a4a4a" stroke-width="0.75" fill="none" />
<text x="141.90" y="405.10" font-size="8.0" text-anchor="start" fill="#4a4a4a" >0</text>
<rect x="147.60" y="394.90" width="1.70" height="8.30" fill="#cdcdcd" stroke="none" stroke-width="1" />
<line x1="147.60" y1="394.90" x2="147.60" y2="403.20" stroke="#4a4a4a" stroke-width="0.65" />
<line x1="149.30" y1="394.90" x2="149.30" y2="403.20" stroke="#4a4a4a" stroke-width="0.65" />
<line x1="146.30" y1="403.20" x2="150.70" y2="403.20" stroke="#4a4a4a" stroke-width="0.7" />
<path d="M 146.30 394.90 L 150.70 394.90 C 153.00 394.90 153.30 395.90 153.30 397.20 C 153.30 398.60 152.30 399.40 150.70 399.40 L 149.30 399.40" stroke="#4a4a4a" stroke-width="0.75" fill="none" />
<text x="153.75" y="405.10" font-size="8.0" text-anchor="start" fill="#4a4a4a" >0</text>
<defs><linearGradient id="ge" x1="0" y1="0" x2="0" y2="1"><stop offset="0.000" stop-color="#053061"/><stop offset="0.050" stop-color="#124984"/><stop offset="0.100" stop-color="#2065ab"/><stop offset="0.150" stop-color="#327cb7"/><stop offset="0.200" stop-color="#4393c3"/><stop offset="0.250" stop-color="#68abd0"/><stop offset="0.300" stop-color="#90c4dd"/><stop offset="0.350" stop-color="#b1d5e7"/><stop offset="0.400" stop-color="#d1e5f0"/><stop offset="0.450" stop-color="#e4eef4"/><stop offset="0.500" stop-color="#f6f7f7"/><stop offset="0.550" stop-color="#fae9df"/><stop offset="0.600" stop-color="#fddbc7"/><stop offset="0.650" stop-color="#f8bfa4"/><stop offset="0.700" stop-color="#f3a481"/><stop offset="0.750" stop-color="#e58368"/><stop offset="0.800" stop-color="#d6604d"/><stop offset="0.850" stop-color="#c43b3c"/><stop offset="0.900" stop-color="#b1182b"/><stop offset="0.950" stop-color="#8a0b25"/><stop offset="1.000" stop-color="#67001f"/></linearGradient></defs>
<rect x="192.30" y="239.00" width="8.10" height="143.60" fill="url(#ge)" stroke="#777" stroke-width="0.6" />
<line x1="200.40" y1="239.20" x2="202.70" y2="239.20" stroke="#3a3a3a" stroke-width="0.8" />
<text x="204.30" y="243.40" font-size="12.2" text-anchor="start" fill="#222" >1</text>
<line x1="200.40" y1="310.80" x2="202.70" y2="310.80" stroke="#3a3a3a" stroke-width="0.8" />
<text x="204.30" y="315.00" font-size="12.2" text-anchor="start" fill="#222" >0</text>
<line x1="200.40" y1="382.40" x2="202.70" y2="382.40" stroke="#3a3a3a" stroke-width="0.8" />
<text x="204.30" y="386.60" font-size="12.2" text-anchor="start" fill="#222" >-1</text>
<text x="247.80" y="218.80" font-size="13.5" text-anchor="start" fill="#1a1a1a" >f)</text>
<rect x="269.70" y="238.20" width="144.63" height="144.63" fill="#f5f5f5" stroke="none" stroke-width="1" />
<rect x="269.70" y="238.20" width="16.12" height="16.12" fill="#f8efec" stroke="none" stroke-width="1" />
<rect x="269.70" y="254.27" width="16.12" height="16.12" fill="#f4f5f6" stroke="none" stroke-width="1" />
<rect x="285.77" y="254.27" width="16.12" height="16.12" fill="#f9e9e3" stroke="none" stroke-width="1" />
<rect x="301.84" y="254.27" width="16.12" height="16.12" fill="#f9ede9" stroke="none" stroke-width="1" />
<rect x="269.70" y="270.34" width="16.12" height="16.12" fill="#f5f5f6" stroke="none" stroke-width="1" />
<rect x="285.77" y="270.34" width="16.12" height="16.12" fill="#fae5dc" stroke="none" stroke-width="1" />
<rect x="301.84" y="270.34" width="16.12" height="16.12" fill="#fcd8c4" stroke="none" stroke-width="1" />
<rect x="366.12" y="270.34" width="16.12" height="16.12" fill="#f7f3f2" stroke="none" stroke-width="1" />
<rect x="269.70" y="286.41" width="16.12" height="16.12" fill="#f8f0ed" stroke="none" stroke-width="1" />
<rect x="317.91" y="286.41" width="16.12" height="16.12" fill="#fcd9c6" stroke="none" stroke-width="1" />
<rect x="366.12" y="286.41" width="16.12" height="16.12" fill="#eef3f7" stroke="none" stroke-width="1" />
<rect x="285.77" y="302.48" width="16.12" height="16.12" fill="#f7f2f0" stroke="none" stroke-width="1" />
<rect x="301.84" y="302.48" width="16.12" height="16.12" fill="#dce9f3" stroke="none" stroke-width="1" />
<rect x="333.98" y="302.48" width="16.12" height="16.12" fill="#c4def0" stroke="none" stroke-width="1" />
<rect x="350.05" y="302.48" width="16.12" height="16.12" fill="#edf3f7" stroke="none" stroke-width="1" />
<rect x="366.12" y="302.48" width="16.12" height="16.12" fill="#fae6dc" stroke="none" stroke-width="1" />
<rect x="398.26" y="302.48" width="16.12" height="16.12" fill="#f7f3f1" stroke="none" stroke-width="1" />
<rect x="269.70" y="318.55" width="16.12" height="16.12" fill="#f2f5f7" stroke="none" stroke-width="1" />
<rect x="285.77" y="318.55" width="16.12" height="16.12" fill="#d6e7f2" stroke="none" stroke-width="1" />
<rect x="301.84" y="318.55" width="16.12" height="16.12" fill="#f7f3f2" stroke="none" stroke-width="1" />
<rect x="317.91" y="318.55" width="16.12" height="16.12" fill="#f2f4f6" stroke="none" stroke-width="1" />
<rect x="333.98" y="318.55" width="16.12" height="16.12" fill="#f7f3f1" stroke="none" stroke-width="1" />
<rect x="350.05" y="318.55" width="16.12" height="16.12" fill="#5fa3d0" stroke="none" stroke-width="1" />
<rect x="366.12" y="318.55" width="16.12" height="16.12" fill="#f8efeb" stroke="none" stroke-width="1" />
<rect x="269.70" y="334.62" width="16.12" height="16.12" fill="#f4f5f7" stroke="none" stroke-width="1" />
<rect x="317.91" y="334.62" width="16.12" height="16.12" fill="#f8eee9" stroke="none" stroke-width="1" />
<rect x="366.12" y="334.62" width="16.12" height="16.12" fill="#fae2d5" stroke="none" stroke-width="1" />
<rect x="285.77" y="350.69" width="16.12" height="16.12" fill="#f4f5f6" stroke="none" stroke-width="1" />
<rect x="301.84" y="350.69" width="16.12" height="16.12" fill="#f6f4f3" stroke="none" stroke-width="1" />
<rect x="317.91" y="350.69" width="16.12" height="16.12" fill="#e0ecf5" stroke="none" stroke-width="1" />
<rect x="382.19" y="350.69" width="16.12" height="16.12" fill="#5a9fcd" stroke="none" stroke-width="1" />
<rect x="398.26" y="350.69" width="16.12" height="16.12" fill="#edf2f7" stroke="none" stroke-width="1" />
<rect x="285.77" y="366.76" width="16.12" height="16.12" fill="#f8f0ed" stroke="none" stroke-width="1" />
<rect x="317.91" y="366.76" width="16.12" height="16.12" fill="#e8f0f6" stroke="none" stroke-width="1" />
<rect x="398.26" y="366.76" width="16.12" height="16.12" fill="#bddaec" stroke="none" stroke-width="1" />
<rect x="269.70" y="238.20" width="144.63" height="144.63" fill="none" stroke="#3a3a3a" stroke-width="0.9" />
<line x1="267.10" y1="246.23" x2="269.70" y2="246.23" stroke="#3a3a3a" stroke-width="0.8" />
<text transform="translate(245.58,250.53) scale(1.0,1)" font-size="14.4" font-style="italic" fill="#222" >X</text><text transform="translate(256.08,250.53) scale(1.0,1)" font-size="14.4" font-style="italic" fill="#222" >X</text>
<line x1="277.74" y1="382.83" x2="277.74" y2="385.43" stroke="#3a3a3a" stroke-width="0.8" />
<g transform="translate(275.74,397.13) rotate(-45)"><text transform="translate(-9.64,4.30) scale(1.0,1)" font-size="14.4" font-style="italic" fill="#222" >X</text><text transform="translate(0.86,4.30) scale(1.0,1)" font-size="14.4" font-style="italic" fill="#222" >X</text></g>
<line x1="267.10" y1="262.31" x2="269.70" y2="262.31" stroke="#3a3a3a" stroke-width="0.8" />
<text transform="translate(245.58,266.61) scale(1.0,1)" font-size="14.4" font-style="italic" fill="#222" >X</text><text transform="translate(254.78,266.61) scale(1.0,1)" font-size="14.4" font-style="italic" fill="#222" >Y</text>
<line x1="293.81" y1="382.83" x2="293.81" y2="385.43" stroke="#3a3a3a" stroke-width="0.8" />
<g transform="translate(291.81,397.13) rotate(-45)"><text transform="translate(-9.01,4.30) scale(1.0,1)" font-size="14.4" font-style="italic" fill="#222" >X</text><text transform="translate(0.20,4.30) scale(1.0,1)" font-size="14.4" font-style="italic" fill="#222" >Y</text></g>
<line x1="267.10" y1="278.38" x2="269.70" y2="278.38" stroke="#3a3a3a" stroke-width="0.8" />
<text transform="translate(245.58,282.68) scale(1.0,1)" font-size="14.4" font-style="italic" fill="#222" >X</text><text transform="translate(255.43,282.68) scale(1.0,1)" font-size="14.4" font-style="italic" fill="#222" >Z</text>
<line x1="309.88" y1="382.83" x2="309.88" y2="385.43" stroke="#3a3a3a" stroke-width="0.8" />
<g transform="translate(307.88,397.13) rotate(-45)"><text transform="translate(-8.75,4.30) scale(1.0,1)" font-size="14.4" font-style="italic" fill="#222" >X</text><text transform="translate(1.10,4.30) scale(1.0,1)" font-size="14.4" font-style="italic" fill="#222" >Z</text></g>
<line x1="267.10" y1="294.44" x2="269.70" y2="294.44" stroke="#3a3a3a" stroke-width="0.8" />
<text transform="translate(244.28,298.75) scale(1.0,1)" font-size="14.4" font-style="italic" fill="#222" >Y</text><text transform="translate(254.98,298.75) scale(1.0,1)" font-size="14.4" font-style="italic" fill="#222" >X</text>
<line x1="325.94" y1="382.83" x2="325.94" y2="385.43" stroke="#3a3a3a" stroke-width="0.8" />
<g transform="translate(323.94,397.13) rotate(-45)"><text transform="translate(-10.39,4.30) scale(1.0,1)" font-size="14.4" font-style="italic" fill="#222" >Y</text><text transform="translate(0.31,4.30) scale(1.0,1)" font-size="14.4" font-style="italic" fill="#222" >X</text></g>
<line x1="267.10" y1="310.51" x2="269.70" y2="310.51" stroke="#3a3a3a" stroke-width="0.8" />
<text transform="translate(244.28,314.81) scale(1.0,1)" font-size="14.4" font-style="italic" fill="#222" >Y</text><text transform="translate(253.68,314.81) scale(1.0,1)" font-size="14.4" font-style="italic" fill="#222" >Y</text>
<line x1="342.01" y1="382.83" x2="342.01" y2="385.43" stroke="#3a3a3a" stroke-width="0.8" />
<g transform="translate(340.01,397.13) rotate(-45)"><text transform="translate(-9.75,4.30) scale(1.0,1)" font-size="14.4" font-style="italic" fill="#222" >Y</text><text transform="translate(-0.35,4.30) scale(1.0,1)" font-size="14.4" font-style="italic" fill="#222" >Y</text></g>
<line x1="267.10" y1="326.58" x2="269.70" y2="326.58" stroke="#3a3a3a" stroke-width="0.8" />
<text transform="translate(244.28,330.88) scale(1.0,1)" font-size="14.4" font-style="italic" fill="#222" >Y</text><text transform="translate(254.33,330.88) scale(1.0,1)" font-size="14.4" font-style="italic" fill="#222" >Z</text>
<line x1="358.08" y1="382.83" x2="358.08" y2="385.43" stroke="#3a3a3a" stroke-width="0.8" />
<g transform="translate(356.08,397.13) rotate(-45)"><text transform="translate(-9.50,4.30) scale(1.0,1)" font-size="14.4" font-style="italic" fill="#222" >Y</text><text transform="translate(0.55,4.30) scale(1.0,1)" font-size="14.4" font-style="italic" fill="#222" >Z</text></g>
<line x1="267.10" y1="342.65" x2="269.70" y2="342.65" stroke="#3a3a3a" stroke-width="0.8" />
<text transform="translate(244.93,346.95) scale(1.0,1)" font-size="14.4" font-style="italic" fill="#222" >Z</text><text transform="translate(254.78,346.95) scale(1.0,1)" font-size="14.4" font-style="italic" fill="#222" >X</text>
<line x1="374.15" y1="382.83" x2="374.15" y2="385.43" stroke="#3a3a3a" stroke-width="0.8" />
<g transform="translate(372.15,397.13) rotate(-45)"><text transform="translate(-9.64,4.30) scale(1.0,1)" font-size="14.4" font-style="italic" fill="#222" >Z</text><text transform="translate(0.21,4.30) scale(1.0,1)" font-size="14.4" font-style="italic" fill="#222" >X</text></g>
<line x1="267.10" y1="358.73" x2="269.70" y2="358.73" stroke="#3a3a3a" stroke-width="0.8" />
<text transform="translate(244.93,363.03) scale(1.0,1)" font-size="14.4" font-style="italic" fill="#222" >Z</text><text transform="translate(253.48,363.03) scale(1.0,1)" font-size="14.4" font-style="italic" fill="#222" >Y</text>
<line x1="390.23" y1="382.83" x2="390.23" y2="385.43" stroke="#3a3a3a" stroke-width="0.8" />
<g transform="translate(388.23,397.13) rotate(-45)"><text transform="translate(-9.01,4.30) scale(1.0,1)" font-size="14.4" font-style="italic" fill="#222" >Z</text><text transform="translate(-0.45,4.30) scale(1.0,1)" font-size="14.4" font-style="italic" fill="#222" >Y</text></g>
<line x1="267.10" y1="374.79" x2="269.70" y2="374.79" stroke="#3a3a3a" stroke-width="0.8" />
<text transform="translate(244.93,379.09) scale(1.0,1)" font-size="14.4" font-style="italic" fill="#222" >Z</text><text transform="translate(254.13,379.09) scale(1.0,1)" font-size="14.4" font-style="italic" fill="#222" >Z</text>
<line x1="406.29" y1="382.83" x2="406.29" y2="385.43" stroke="#3a3a3a" stroke-width="0.8" />
<g transform="translate(404.29,397.13) rotate(-45)"><text transform="translate(-8.75,4.30) scale(1.0,1)" font-size="14.4" font-style="italic" fill="#222" >Z</text><text transform="translate(0.45,4.30) scale(1.0,1)" font-size="14.4" font-style="italic" fill="#222" >Z</text></g>
<path d="M 309.91 233.37 Q 311.51 233.71 312.35 230.38 L 313.19 225.17" stroke="#222" stroke-width="0.9" fill="none" stroke-linecap="round"/>
<path d="M 313.19 225.17 L 315.70 233.37" stroke="#222" stroke-width="1.5" fill="none" stroke-linecap="round"/>
<path d="M 315.70 233.37 Q 316.88 226.62 319.39 224.74" stroke="#222" stroke-width="0.9" fill="none" stroke-linecap="round"/>
<text x="319.70" y="235.30" font-size="9.3" text-anchor="start" font-style="italic" fill="#222" >C</text>
<line x1="331.90" y1="228.80" x2="340.00" y2="228.80" stroke="#222" stroke-width="0.75" />
<line x1="331.90" y1="231.70" x2="340.00" y2="231.70" stroke="#222" stroke-width="0.75" />
<text transform="translate(345.78,233.80) scale(1.0,1)" font-size="14.4" font-style="italic" fill="#222" >X</text>
<text transform="translate(357.48,233.80) scale(1.0,1)" font-size="14.4" font-style="italic" fill="#222" >X</text>
<text transform="translate(366.24,234.30) scale(1.000,1)" font-size="15.0" fill="#222">(</text>
<text transform="translate(370.38,233.80) scale(0.917,1)" font-size="13.8" font-style="italic" fill="#222">θ</text>
<text transform="translate(376.92,234.30) scale(1.000,1)" font-size="15.0" fill="#222">)</text>
<defs><linearGradient id="gf" x1="0" y1="0" x2="0" y2="1"><stop offset="0.000" stop-color="#053061"/><stop offset="0.050" stop-color="#124984"/><stop offset="0.100" stop-color="#2065ab"/><stop offset="0.150" stop-color="#327cb7"/><stop offset="0.200" stop-color="#4393c3"/><stop offset="0.250" stop-color="#68abd0"/><stop offset="0.300" stop-color="#90c4dd"/><stop offset="0.350" stop-color="#b1d5e7"/><stop offset="0.400" stop-color="#d1e5f0"/><stop offset="0.450" stop-color="#e4eef4"/><stop offset="0.500" stop-color="#f6f7f7"/><stop offset="0.550" stop-color="#fae9df"/><stop offset="0.600" stop-color="#fddbc7"/><stop offset="0.650" stop-color="#f8bfa4"/><stop offset="0.700" stop-color="#f3a481"/><stop offset="0.750" stop-color="#e58368"/><stop offset="0.800" stop-color="#d6604d"/><stop offset="0.850" stop-color="#c43b3c"/><stop offset="0.900" stop-color="#b1182b"/><stop offset="0.950" stop-color="#8a0b25"/><stop offset="1.000" stop-color="#67001f"/></linearGradient></defs>
<rect x="421.30" y="238.20" width="8.40" height="144.63" fill="url(#gf)" stroke="#777" stroke-width="0.6" />
<line x1="429.70" y1="238.40" x2="432.10" y2="238.40" stroke="#3a3a3a" stroke-width="0.8" />
<text x="433.30" y="242.60" font-size="12.2" text-anchor="start" fill="#222" >0.5</text>
<line x1="429.70" y1="310.51" x2="432.10" y2="310.51" stroke="#3a3a3a" stroke-width="0.8" />
<text x="433.30" y="314.71" font-size="12.2" text-anchor="start" fill="#222" >0</text>
<line x1="429.70" y1="382.63" x2="432.10" y2="382.63" stroke="#3a3a3a" stroke-width="0.8" />
<text x="433.30" y="386.83" font-size="12.2" text-anchor="start" fill="#222" >-0.5</text>
<text x="472.00" y="218.20" font-size="13.5" text-anchor="start" fill="#1a1a1a" >g)</text>
<rect x="496.70" y="238.70" width="145.53" height="144.81" fill="#f5f5f5" stroke="none" stroke-width="1" />
<rect x="496.70" y="238.70" width="16.22" height="16.14" fill="#c0dbed" stroke="none" stroke-width="1" />
<rect x="512.87" y="238.70" width="16.22" height="16.14" fill="#f2f4f6" stroke="none" stroke-width="1" />
<rect x="545.21" y="238.70" width="16.22" height="16.14" fill="#f7f4f3" stroke="none" stroke-width="1" />
<rect x="577.55" y="238.70" width="16.22" height="16.14" fill="#f9ebe5" stroke="none" stroke-width="1" />
<rect x="609.89" y="238.70" width="16.22" height="16.14" fill="#ecf2f7" stroke="none" stroke-width="1" />
<rect x="496.70" y="254.79" width="16.22" height="16.14" fill="#f3f4f6" stroke="none" stroke-width="1" />
<rect x="512.87" y="254.79" width="16.22" height="16.14" fill="#c6dff0" stroke="none" stroke-width="1" />
<rect x="529.04" y="254.79" width="16.22" height="16.14" fill="#f1f4f6" stroke="none" stroke-width="1" />
<rect x="545.21" y="254.79" width="16.22" height="16.14" fill="#f2f4f6" stroke="none" stroke-width="1" />
<rect x="561.38" y="254.79" width="16.22" height="16.14" fill="#f7f5f4" stroke="none" stroke-width="1" />
<rect x="577.55" y="254.79" width="16.22" height="16.14" fill="#f7f2f0" stroke="none" stroke-width="1" />
<rect x="593.72" y="254.79" width="16.22" height="16.14" fill="#e9f0f6" stroke="none" stroke-width="1" />
<rect x="529.04" y="270.88" width="16.22" height="16.14" fill="#fbdcca" stroke="none" stroke-width="1" />
<rect x="577.55" y="270.88" width="16.22" height="16.14" fill="#ebf1f6" stroke="none" stroke-width="1" />
<rect x="529.04" y="286.97" width="16.22" height="16.14" fill="#f0f3f6" stroke="none" stroke-width="1" />
<rect x="545.21" y="286.97" width="16.22" height="16.14" fill="#d6e7f3" stroke="none" stroke-width="1" />
<rect x="561.38" y="286.97" width="16.22" height="16.14" fill="#f2f4f6" stroke="none" stroke-width="1" />
<rect x="609.89" y="286.97" width="16.22" height="16.14" fill="#f8efeb" stroke="none" stroke-width="1" />
<rect x="496.70" y="303.06" width="16.22" height="16.14" fill="#f7f4f3" stroke="none" stroke-width="1" />
<rect x="529.04" y="303.06" width="16.22" height="16.14" fill="#e7eff6" stroke="none" stroke-width="1" />
<rect x="545.21" y="303.06" width="16.22" height="16.14" fill="#f1f4f6" stroke="none" stroke-width="1" />
<rect x="561.38" y="303.06" width="16.22" height="16.14" fill="#c3dcef" stroke="none" stroke-width="1" />
<rect x="593.72" y="303.06" width="16.22" height="16.14" fill="#e3edf5" stroke="none" stroke-width="1" />
<rect x="512.87" y="319.15" width="16.22" height="16.14" fill="#f2f4f6" stroke="none" stroke-width="1" />
<rect x="529.04" y="319.15" width="16.22" height="16.14" fill="#fae7dd" stroke="none" stroke-width="1" />
<rect x="577.55" y="319.15" width="16.22" height="16.14" fill="#d4e6f2" stroke="none" stroke-width="1" />
<rect x="593.72" y="335.24" width="16.22" height="16.14" fill="#f9e5db" stroke="none" stroke-width="1" />
<rect x="609.89" y="335.24" width="16.22" height="16.14" fill="#f8efea" stroke="none" stroke-width="1" />
<rect x="545.21" y="351.33" width="16.22" height="16.14" fill="#f7f4f2" stroke="none" stroke-width="1" />
<rect x="593.72" y="351.33" width="16.22" height="16.14" fill="#f9eae3" stroke="none" stroke-width="1" />
<rect x="609.89" y="351.33" width="16.22" height="16.14" fill="#d1e4f1" stroke="none" stroke-width="1" />
<rect x="529.04" y="367.42" width="16.22" height="16.14" fill="#f7f4f2" stroke="none" stroke-width="1" />
<rect x="496.70" y="238.70" width="145.53" height="144.81" fill="none" stroke="#3a3a3a" stroke-width="0.9" />
<line x1="494.10" y1="246.74" x2="496.70" y2="246.74" stroke="#3a3a3a" stroke-width="0.8" />
<text transform="translate(472.58,251.04) scale(1.0,1)" font-size="14.4" font-style="italic" fill="#222" >X</text><text transform="translate(483.08,251.04) scale(1.0,1)" font-size="14.4" font-style="italic" fill="#222" >X</text>
<line x1="504.78" y1="383.51" x2="504.78" y2="386.11" stroke="#3a3a3a" stroke-width="0.8" />
<g transform="translate(505.58,397.81) rotate(-45)"><text transform="translate(-9.64,4.30) scale(1.0,1)" font-size="14.4" font-style="italic" fill="#222" >X</text><text transform="translate(0.86,4.30) scale(1.0,1)" font-size="14.4" font-style="italic" fill="#222" >X</text></g>
<line x1="494.10" y1="262.83" x2="496.70" y2="262.83" stroke="#3a3a3a" stroke-width="0.8" />
<text transform="translate(472.58,267.13) scale(1.0,1)" font-size="14.4" font-style="italic" fill="#222" >X</text><text transform="translate(481.78,267.13) scale(1.0,1)" font-size="14.4" font-style="italic" fill="#222" >Y</text>
<line x1="520.96" y1="383.51" x2="520.96" y2="386.11" stroke="#3a3a3a" stroke-width="0.8" />
<g transform="translate(521.75,397.81) rotate(-45)"><text transform="translate(-9.01,4.30) scale(1.0,1)" font-size="14.4" font-style="italic" fill="#222" >X</text><text transform="translate(0.20,4.30) scale(1.0,1)" font-size="14.4" font-style="italic" fill="#222" >Y</text></g>
<line x1="494.10" y1="278.93" x2="496.70" y2="278.93" stroke="#3a3a3a" stroke-width="0.8" />
<text transform="translate(472.58,283.23) scale(1.0,1)" font-size="14.4" font-style="italic" fill="#222" >X</text><text transform="translate(482.43,283.23) scale(1.0,1)" font-size="14.4" font-style="italic" fill="#222" >Z</text>
<line x1="537.12" y1="383.51" x2="537.12" y2="386.11" stroke="#3a3a3a" stroke-width="0.8" />
<g transform="translate(537.92,397.81) rotate(-45)"><text transform="translate(-8.75,4.30) scale(1.0,1)" font-size="14.4" font-style="italic" fill="#222" >X</text><text transform="translate(1.10,4.30) scale(1.0,1)" font-size="14.4" font-style="italic" fill="#222" >Z</text></g>
<line x1="494.10" y1="295.01" x2="496.70" y2="295.01" stroke="#3a3a3a" stroke-width="0.8" />
<text transform="translate(471.28,299.31) scale(1.0,1)" font-size="14.4" font-style="italic" fill="#222" >Y</text><text transform="translate(481.98,299.31) scale(1.0,1)" font-size="14.4" font-style="italic" fill="#222" >X</text>
<line x1="553.29" y1="383.51" x2="553.29" y2="386.11" stroke="#3a3a3a" stroke-width="0.8" />
<g transform="translate(554.09,397.81) rotate(-45)"><text transform="translate(-10.39,4.30) scale(1.0,1)" font-size="14.4" font-style="italic" fill="#222" >Y</text><text transform="translate(0.31,4.30) scale(1.0,1)" font-size="14.4" font-style="italic" fill="#222" >X</text></g>
<line x1="494.10" y1="311.11" x2="496.70" y2="311.11" stroke="#3a3a3a" stroke-width="0.8" />
<text transform="translate(471.28,315.41) scale(1.0,1)" font-size="14.4" font-style="italic" fill="#222" >Y</text><text transform="translate(480.68,315.41) scale(1.0,1)" font-size="14.4" font-style="italic" fill="#222" >Y</text>
<line x1="569.47" y1="383.51" x2="569.47" y2="386.11" stroke="#3a3a3a" stroke-width="0.8" />
<g transform="translate(570.26,397.81) rotate(-45)"><text transform="translate(-9.75,4.30) scale(1.0,1)" font-size="14.4" font-style="italic" fill="#222" >Y</text><text transform="translate(-0.35,4.30) scale(1.0,1)" font-size="14.4" font-style="italic" fill="#222" >Y</text></g>
<line x1="494.10" y1="327.19" x2="496.70" y2="327.19" stroke="#3a3a3a" stroke-width="0.8" />
<text transform="translate(471.28,331.50) scale(1.0,1)" font-size="14.4" font-style="italic" fill="#222" >Y</text><text transform="translate(481.33,331.50) scale(1.0,1)" font-size="14.4" font-style="italic" fill="#222" >Z</text>
<line x1="585.63" y1="383.51" x2="585.63" y2="386.11" stroke="#3a3a3a" stroke-width="0.8" />
<g transform="translate(586.43,397.81) rotate(-45)"><text transform="translate(-9.50,4.30) scale(1.0,1)" font-size="14.4" font-style="italic" fill="#222" >Y</text><text transform="translate(0.55,4.30) scale(1.0,1)" font-size="14.4" font-style="italic" fill="#222" >Z</text></g>
<line x1="494.10" y1="343.28" x2="496.70" y2="343.28" stroke="#3a3a3a" stroke-width="0.8" />
<text transform="translate(471.93,347.58) scale(1.0,1)" font-size="14.4" font-style="italic" fill="#222" >Z</text><text transform="translate(481.78,347.58) scale(1.0,1)" font-size="14.4" font-style="italic" fill="#222" >X</text>
<line x1="601.81" y1="383.51" x2="601.81" y2="386.11" stroke="#3a3a3a" stroke-width="0.8" />
<g transform="translate(602.61,397.81) rotate(-45)"><text transform="translate(-9.64,4.30) scale(1.0,1)" font-size="14.4" font-style="italic" fill="#222" >Z</text><text transform="translate(0.21,4.30) scale(1.0,1)" font-size="14.4" font-style="italic" fill="#222" >X</text></g>
<line x1="494.10" y1="359.38" x2="496.70" y2="359.38" stroke="#3a3a3a" stroke-width="0.8" />
<text transform="translate(471.93,363.68) scale(1.0,1)" font-size="14.4" font-style="italic" fill="#222" >Z</text><text transform="translate(480.48,363.68) scale(1.0,1)" font-size="14.4" font-style="italic" fill="#222" >Y</text>
<line x1="617.98" y1="383.51" x2="617.98" y2="386.11" stroke="#3a3a3a" stroke-width="0.8" />
<g transform="translate(618.77,397.81) rotate(-45)"><text transform="translate(-9.01,4.30) scale(1.0,1)" font-size="14.4" font-style="italic" fill="#222" >Z</text><text transform="translate(-0.45,4.30) scale(1.0,1)" font-size="14.4" font-style="italic" fill="#222" >Y</text></g>
<line x1="494.10" y1="375.46" x2="496.70" y2="375.46" stroke="#3a3a3a" stroke-width="0.8" />
<text transform="translate(471.93,379.76) scale(1.0,1)" font-size="14.4" font-style="italic" fill="#222" >Z</text><text transform="translate(481.13,379.76) scale(1.0,1)" font-size="14.4" font-style="italic" fill="#222" >Z</text>
<line x1="634.14" y1="383.51" x2="634.14" y2="386.11" stroke="#3a3a3a" stroke-width="0.8" />
<g transform="translate(634.94,397.81) rotate(-45)"><text transform="translate(-8.75,4.30) scale(1.0,1)" font-size="14.4" font-style="italic" fill="#222" >Z</text><text transform="translate(0.45,4.30) scale(1.0,1)" font-size="14.4" font-style="italic" fill="#222" >Z</text></g>
<path d="M 536.11 233.37 Q 537.71 233.71 538.55 230.38 L 539.39 225.17" stroke="#222" stroke-width="0.9" fill="none" stroke-linecap="round"/>
<path d="M 539.39 225.17 L 541.90 233.37" stroke="#222" stroke-width="1.5" fill="none" stroke-linecap="round"/>
<path d="M 541.90 233.37 Q 543.08 226.62 545.59 224.74" stroke="#222" stroke-width="0.9" fill="none" stroke-linecap="round"/>
<text x="545.90" y="235.30" font-size="9.3" text-anchor="start" font-style="italic" fill="#222" >C</text>
<line x1="558.10" y1="228.80" x2="566.20" y2="228.80" stroke="#222" stroke-width="0.75" />
<line x1="558.10" y1="231.70" x2="566.20" y2="231.70" stroke="#222" stroke-width="0.75" />
<text transform="translate(571.63,233.80) scale(1.0,1)" font-size="14.4" font-style="italic" fill="#222" >Z</text>
<text transform="translate(581.73,233.80) scale(1.0,1)" font-size="14.4" font-style="italic" fill="#222" >Z</text>
<text transform="translate(590.44,234.30) scale(1.000,1)" font-size="15.0" fill="#222">(</text>
<text transform="translate(594.58,233.80) scale(0.917,1)" font-size="13.8" font-style="italic" fill="#222">θ</text>
<text transform="translate(601.12,234.30) scale(1.000,1)" font-size="15.0" fill="#222">)</text>
<defs><linearGradient id="gg" x1="0" y1="0" x2="0" y2="1"><stop offset="0.000" stop-color="#053061"/><stop offset="0.050" stop-color="#124984"/><stop offset="0.100" stop-color="#2065ab"/><stop offset="0.150" stop-color="#327cb7"/><stop offset="0.200" stop-color="#4393c3"/><stop offset="0.250" stop-color="#68abd0"/><stop offset="0.300" stop-color="#90c4dd"/><stop offset="0.350" stop-color="#b1d5e7"/><stop offset="0.400" stop-color="#d1e5f0"/><stop offset="0.450" stop-color="#e4eef4"/><stop offset="0.500" stop-color="#f6f7f7"/><stop offset="0.550" stop-color="#fae9df"/><stop offset="0.600" stop-color="#fddbc7"/><stop offset="0.650" stop-color="#f8bfa4"/><stop offset="0.700" stop-color="#f3a481"/><stop offset="0.750" stop-color="#e58368"/><stop offset="0.800" stop-color="#d6604d"/><stop offset="0.850" stop-color="#c43b3c"/><stop offset="0.900" stop-color="#b1182b"/><stop offset="0.950" stop-color="#8a0b25"/><stop offset="1.000" stop-color="#67001f"/></linearGradient></defs>
<rect x="649.30" y="238.70" width="8.40" height="144.81" fill="url(#gg)" stroke="#777" stroke-width="0.6" />
<line x1="657.70" y1="238.90" x2="660.10" y2="238.90" stroke="#3a3a3a" stroke-width="0.8" />
<text x="661.30" y="243.10" font-size="12.2" text-anchor="start" fill="#222" >0.5</text>
<line x1="657.70" y1="311.11" x2="660.10" y2="311.11" stroke="#3a3a3a" stroke-width="0.8" />
<text x="661.30" y="315.31" font-size="12.2" text-anchor="start" fill="#222" >0</text>
<line x1="657.70" y1="383.31" x2="660.10" y2="383.31" stroke="#3a3a3a" stroke-width="0.8" />
<text x="661.30" y="387.51" font-size="12.2" text-anchor="start" fill="#222" >-0.5</text>
</svg></body></html>
